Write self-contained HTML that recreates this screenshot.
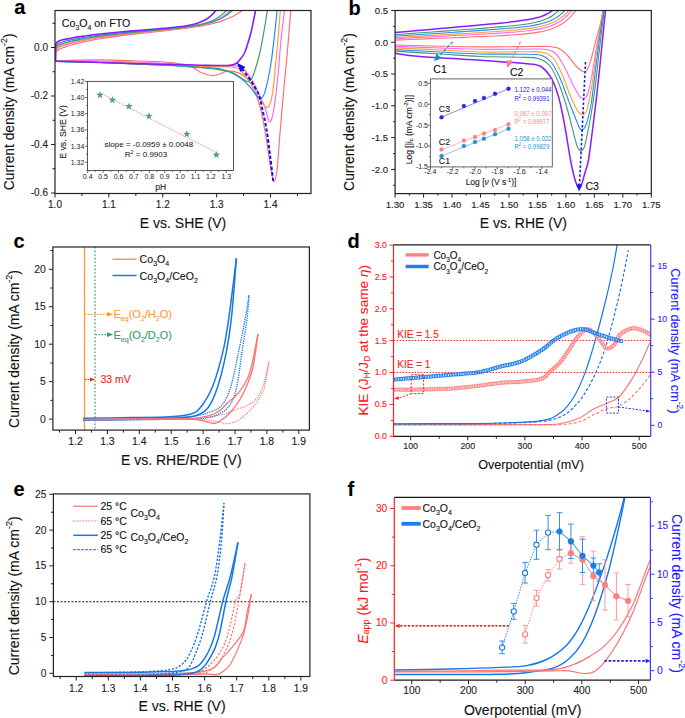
<!DOCTYPE html>
<html><head><meta charset="utf-8"><style>
html,body{margin:0;padding:0;background:#fff;}
svg{display:block;font-family:"Liberation Sans", sans-serif;}
</style></head><body>
<svg width="685" height="718" viewBox="0 0 685 718">
<rect width="685" height="718" fill="#fff"/>
<text x="14.3" y="14.4" font-size="20" text-anchor="start" fill="#000" font-weight="bold"  stroke="#000" stroke-width="0.12">a</text>
<text x="348.5" y="14.5" font-size="20" text-anchor="start" fill="#000" font-weight="bold"  stroke="#000" stroke-width="0.12">b</text>
<text x="13.6" y="248.4" font-size="20" text-anchor="start" fill="#000" font-weight="bold"  stroke="#000" stroke-width="0.12">c</text>
<text x="347.5" y="248.1" font-size="20" text-anchor="start" fill="#000" font-weight="bold"  stroke="#000" stroke-width="0.12">d</text>
<text x="13.6" y="496.3" font-size="20" text-anchor="start" fill="#000" font-weight="bold"  stroke="#000" stroke-width="0.12">e</text>
<text x="347.5" y="495.7" font-size="20" text-anchor="start" fill="#000" font-weight="bold"  stroke="#000" stroke-width="0.12">f</text>
<line x1="55" y1="193.5" x2="55" y2="197.5" stroke="#222" stroke-width="1.0"/>
<line x1="108.88" y1="193.5" x2="108.88" y2="197.5" stroke="#222" stroke-width="1.0"/>
<line x1="162.75" y1="193.5" x2="162.75" y2="197.5" stroke="#222" stroke-width="1.0"/>
<line x1="216.63" y1="193.5" x2="216.63" y2="197.5" stroke="#222" stroke-width="1.0"/>
<line x1="270.5" y1="193.5" x2="270.5" y2="197.5" stroke="#222" stroke-width="1.0"/>
<line x1="81.94" y1="193.5" x2="81.94" y2="196" stroke="#222" stroke-width="1.0"/>
<line x1="135.81" y1="193.5" x2="135.81" y2="196" stroke="#222" stroke-width="1.0"/>
<line x1="189.69" y1="193.5" x2="189.69" y2="196" stroke="#222" stroke-width="1.0"/>
<line x1="243.56" y1="193.5" x2="243.56" y2="196" stroke="#222" stroke-width="1.0"/>
<line x1="297.44" y1="193.5" x2="297.44" y2="196" stroke="#222" stroke-width="1.0"/>
<text x="55" y="208.1" font-size="10" text-anchor="middle" fill="#222" font-weight="normal"  stroke="#222" stroke-width="0.12">1.0</text>
<text x="108.88" y="208.1" font-size="10" text-anchor="middle" fill="#222" font-weight="normal"  stroke="#222" stroke-width="0.12">1.1</text>
<text x="162.75" y="208.1" font-size="10" text-anchor="middle" fill="#222" font-weight="normal"  stroke="#222" stroke-width="0.12">1.2</text>
<text x="216.63" y="208.1" font-size="10" text-anchor="middle" fill="#222" font-weight="normal"  stroke="#222" stroke-width="0.12">1.3</text>
<text x="270.5" y="208.1" font-size="10" text-anchor="middle" fill="#222" font-weight="normal"  stroke="#222" stroke-width="0.12">1.4</text>
<line x1="55" y1="47.5" x2="51" y2="47.5" stroke="#222" stroke-width="1.0"/>
<line x1="55" y1="96" x2="51" y2="96" stroke="#222" stroke-width="1.0"/>
<line x1="55" y1="144.5" x2="51" y2="144.5" stroke="#222" stroke-width="1.0"/>
<line x1="55" y1="193" x2="51" y2="193" stroke="#222" stroke-width="1.0"/>
<line x1="55" y1="23.25" x2="52.5" y2="23.25" stroke="#222" stroke-width="1.0"/>
<line x1="55" y1="71.75" x2="52.5" y2="71.75" stroke="#222" stroke-width="1.0"/>
<line x1="55" y1="120.25" x2="52.5" y2="120.25" stroke="#222" stroke-width="1.0"/>
<line x1="55" y1="168.75" x2="52.5" y2="168.75" stroke="#222" stroke-width="1.0"/>
<text x="48" y="50.8" font-size="10" text-anchor="end" fill="#222" font-weight="normal"  stroke="#222" stroke-width="0.12">0.0</text>
<text x="48" y="99.3" font-size="10" text-anchor="end" fill="#222" font-weight="normal"  stroke="#222" stroke-width="0.12">-0.2</text>
<text x="48" y="147.8" font-size="10" text-anchor="end" fill="#222" font-weight="normal"  stroke="#222" stroke-width="0.12">-0.4</text>
<text x="48" y="196.3" font-size="10" text-anchor="end" fill="#222" font-weight="normal"  stroke="#222" stroke-width="0.12">-0.6</text>
<text x="183" y="228.4" font-size="14" text-anchor="middle" fill="#111" font-weight="normal"  stroke="#111" stroke-width="0.12">E vs. SHE (V)</text>
<text x="0" y="0" font-size="13.8" text-anchor="middle" fill="#111" transform="translate(9.3,111.8) rotate(-90)" dominant-baseline="central"  stroke="#111" stroke-width="0.12">Current density (mA cm<tspan dy="-5" font-size="9">-2</tspan><tspan dy="5">)</tspan></text>
<text x="61.8" y="27.3" font-size="11.2" fill="#111" textLength="68.5" lengthAdjust="spacingAndGlyphs" stroke="#111" stroke-width="0.12">Co<tspan dy="3" font-size="7.2">3</tspan><tspan dy="-3">O</tspan><tspan dy="3" font-size="7.2">4</tspan><tspan dy="-3"> on FTO</tspan></text>
<line x1="395.1" y1="193.6" x2="395.1" y2="197.6" stroke="#222" stroke-width="1.0"/>
<line x1="423.57" y1="193.6" x2="423.57" y2="197.6" stroke="#222" stroke-width="1.0"/>
<line x1="452.03" y1="193.6" x2="452.03" y2="197.6" stroke="#222" stroke-width="1.0"/>
<line x1="480.5" y1="193.6" x2="480.5" y2="197.6" stroke="#222" stroke-width="1.0"/>
<line x1="508.97" y1="193.6" x2="508.97" y2="197.6" stroke="#222" stroke-width="1.0"/>
<line x1="537.43" y1="193.6" x2="537.43" y2="197.6" stroke="#222" stroke-width="1.0"/>
<line x1="565.9" y1="193.6" x2="565.9" y2="197.6" stroke="#222" stroke-width="1.0"/>
<line x1="594.37" y1="193.6" x2="594.37" y2="197.6" stroke="#222" stroke-width="1.0"/>
<line x1="622.83" y1="193.6" x2="622.83" y2="197.6" stroke="#222" stroke-width="1.0"/>
<line x1="651.3" y1="193.6" x2="651.3" y2="197.6" stroke="#222" stroke-width="1.0"/>
<line x1="409.33" y1="193.6" x2="409.33" y2="195.6" stroke="#222" stroke-width="1.0"/>
<line x1="437.8" y1="193.6" x2="437.8" y2="195.6" stroke="#222" stroke-width="1.0"/>
<line x1="466.27" y1="193.6" x2="466.27" y2="195.6" stroke="#222" stroke-width="1.0"/>
<line x1="494.73" y1="193.6" x2="494.73" y2="195.6" stroke="#222" stroke-width="1.0"/>
<line x1="523.2" y1="193.6" x2="523.2" y2="195.6" stroke="#222" stroke-width="1.0"/>
<line x1="551.67" y1="193.6" x2="551.67" y2="195.6" stroke="#222" stroke-width="1.0"/>
<line x1="580.13" y1="193.6" x2="580.13" y2="195.6" stroke="#222" stroke-width="1.0"/>
<line x1="608.6" y1="193.6" x2="608.6" y2="195.6" stroke="#222" stroke-width="1.0"/>
<line x1="637.07" y1="193.6" x2="637.07" y2="195.6" stroke="#222" stroke-width="1.0"/>
<text x="395.1" y="207.9" font-size="9.6" text-anchor="middle" fill="#222" font-weight="normal"  stroke="#222" stroke-width="0.12">1.30</text>
<text x="423.57" y="207.9" font-size="9.6" text-anchor="middle" fill="#222" font-weight="normal"  stroke="#222" stroke-width="0.12">1.35</text>
<text x="452.03" y="207.9" font-size="9.6" text-anchor="middle" fill="#222" font-weight="normal"  stroke="#222" stroke-width="0.12">1.40</text>
<text x="480.5" y="207.9" font-size="9.6" text-anchor="middle" fill="#222" font-weight="normal"  stroke="#222" stroke-width="0.12">1.45</text>
<text x="508.97" y="207.9" font-size="9.6" text-anchor="middle" fill="#222" font-weight="normal"  stroke="#222" stroke-width="0.12">1.50</text>
<text x="537.43" y="207.9" font-size="9.6" text-anchor="middle" fill="#222" font-weight="normal"  stroke="#222" stroke-width="0.12">1.55</text>
<text x="565.9" y="207.9" font-size="9.6" text-anchor="middle" fill="#222" font-weight="normal"  stroke="#222" stroke-width="0.12">1.60</text>
<text x="594.37" y="207.9" font-size="9.6" text-anchor="middle" fill="#222" font-weight="normal"  stroke="#222" stroke-width="0.12">1.65</text>
<text x="622.83" y="207.9" font-size="9.6" text-anchor="middle" fill="#222" font-weight="normal"  stroke="#222" stroke-width="0.12">1.70</text>
<text x="651.3" y="207.9" font-size="9.6" text-anchor="middle" fill="#222" font-weight="normal"  stroke="#222" stroke-width="0.12">1.75</text>
<line x1="395.1" y1="10.5" x2="391.1" y2="10.5" stroke="#222" stroke-width="1.0"/>
<line x1="395.1" y1="42.28" x2="391.1" y2="42.28" stroke="#222" stroke-width="1.0"/>
<line x1="395.1" y1="74.06" x2="391.1" y2="74.06" stroke="#222" stroke-width="1.0"/>
<line x1="395.1" y1="105.84" x2="391.1" y2="105.84" stroke="#222" stroke-width="1.0"/>
<line x1="395.1" y1="137.62" x2="391.1" y2="137.62" stroke="#222" stroke-width="1.0"/>
<line x1="395.1" y1="169.4" x2="391.1" y2="169.4" stroke="#222" stroke-width="1.0"/>
<line x1="395.1" y1="26.39" x2="393.1" y2="26.39" stroke="#222" stroke-width="1.0"/>
<line x1="395.1" y1="58.17" x2="393.1" y2="58.17" stroke="#222" stroke-width="1.0"/>
<line x1="395.1" y1="89.95" x2="393.1" y2="89.95" stroke="#222" stroke-width="1.0"/>
<line x1="395.1" y1="121.73" x2="393.1" y2="121.73" stroke="#222" stroke-width="1.0"/>
<line x1="395.1" y1="153.51" x2="393.1" y2="153.51" stroke="#222" stroke-width="1.0"/>
<line x1="395.1" y1="185.29" x2="393.1" y2="185.29" stroke="#222" stroke-width="1.0"/>
<text x="388.1" y="13.8" font-size="9.6" text-anchor="end" fill="#222" font-weight="normal"  stroke="#222" stroke-width="0.12">0.5</text>
<text x="388.1" y="45.58" font-size="9.6" text-anchor="end" fill="#222" font-weight="normal"  stroke="#222" stroke-width="0.12">0.0</text>
<text x="388.1" y="77.36" font-size="9.6" text-anchor="end" fill="#222" font-weight="normal"  stroke="#222" stroke-width="0.12">-0.5</text>
<text x="388.1" y="109.14" font-size="9.6" text-anchor="end" fill="#222" font-weight="normal"  stroke="#222" stroke-width="0.12">-1.0</text>
<text x="388.1" y="140.92" font-size="9.6" text-anchor="end" fill="#222" font-weight="normal"  stroke="#222" stroke-width="0.12">-1.5</text>
<text x="388.1" y="172.7" font-size="9.6" text-anchor="end" fill="#222" font-weight="normal"  stroke="#222" stroke-width="0.12">-2.0</text>
<text x="523.4" y="227.9" font-size="14" text-anchor="middle" fill="#111" font-weight="normal"  stroke="#111" stroke-width="0.12">E vs. RHE (V)</text>
<text x="0" y="0" font-size="13.9" text-anchor="middle" fill="#111" transform="translate(349.3,112) rotate(-90)" dominant-baseline="central"  stroke="#111" stroke-width="0.12">Current density (mA cm<tspan dy="-5" font-size="9">-2</tspan><tspan dy="5">)</tspan></text>
<line x1="75.5" y1="430.1" x2="75.5" y2="434.1" stroke="#222" stroke-width="1.0"/>
<line x1="107.4" y1="430.1" x2="107.4" y2="434.1" stroke="#222" stroke-width="1.0"/>
<line x1="139.3" y1="430.1" x2="139.3" y2="434.1" stroke="#222" stroke-width="1.0"/>
<line x1="171.2" y1="430.1" x2="171.2" y2="434.1" stroke="#222" stroke-width="1.0"/>
<line x1="203.1" y1="430.1" x2="203.1" y2="434.1" stroke="#222" stroke-width="1.0"/>
<line x1="235" y1="430.1" x2="235" y2="434.1" stroke="#222" stroke-width="1.0"/>
<line x1="266.9" y1="430.1" x2="266.9" y2="434.1" stroke="#222" stroke-width="1.0"/>
<line x1="298.8" y1="430.1" x2="298.8" y2="434.1" stroke="#222" stroke-width="1.0"/>
<line x1="59.55" y1="430.1" x2="59.55" y2="432.6" stroke="#222" stroke-width="1.0"/>
<line x1="91.45" y1="430.1" x2="91.45" y2="432.6" stroke="#222" stroke-width="1.0"/>
<line x1="123.35" y1="430.1" x2="123.35" y2="432.6" stroke="#222" stroke-width="1.0"/>
<line x1="155.25" y1="430.1" x2="155.25" y2="432.6" stroke="#222" stroke-width="1.0"/>
<line x1="187.15" y1="430.1" x2="187.15" y2="432.6" stroke="#222" stroke-width="1.0"/>
<line x1="219.05" y1="430.1" x2="219.05" y2="432.6" stroke="#222" stroke-width="1.0"/>
<line x1="250.95" y1="430.1" x2="250.95" y2="432.6" stroke="#222" stroke-width="1.0"/>
<line x1="282.85" y1="430.1" x2="282.85" y2="432.6" stroke="#222" stroke-width="1.0"/>
<text x="75.5" y="444.6" font-size="10.4" text-anchor="middle" fill="#222" font-weight="normal"  stroke="#222" stroke-width="0.12">1.2</text>
<text x="107.4" y="444.6" font-size="10.4" text-anchor="middle" fill="#222" font-weight="normal"  stroke="#222" stroke-width="0.12">1.3</text>
<text x="139.3" y="444.6" font-size="10.4" text-anchor="middle" fill="#222" font-weight="normal"  stroke="#222" stroke-width="0.12">1.4</text>
<text x="171.2" y="444.6" font-size="10.4" text-anchor="middle" fill="#222" font-weight="normal"  stroke="#222" stroke-width="0.12">1.5</text>
<text x="203.1" y="444.6" font-size="10.4" text-anchor="middle" fill="#222" font-weight="normal"  stroke="#222" stroke-width="0.12">1.6</text>
<text x="235" y="444.6" font-size="10.4" text-anchor="middle" fill="#222" font-weight="normal"  stroke="#222" stroke-width="0.12">1.7</text>
<text x="266.9" y="444.6" font-size="10.4" text-anchor="middle" fill="#222" font-weight="normal"  stroke="#222" stroke-width="0.12">1.8</text>
<text x="298.8" y="444.6" font-size="10.4" text-anchor="middle" fill="#222" font-weight="normal"  stroke="#222" stroke-width="0.12">1.9</text>
<line x1="52.9" y1="419.1" x2="48.9" y2="419.1" stroke="#222" stroke-width="1.0"/>
<line x1="52.9" y1="381.65" x2="48.9" y2="381.65" stroke="#222" stroke-width="1.0"/>
<line x1="52.9" y1="344.2" x2="48.9" y2="344.2" stroke="#222" stroke-width="1.0"/>
<line x1="52.9" y1="306.75" x2="48.9" y2="306.75" stroke="#222" stroke-width="1.0"/>
<line x1="52.9" y1="269.3" x2="48.9" y2="269.3" stroke="#222" stroke-width="1.0"/>
<line x1="52.9" y1="400.38" x2="50.4" y2="400.38" stroke="#222" stroke-width="1.0"/>
<line x1="52.9" y1="362.93" x2="50.4" y2="362.93" stroke="#222" stroke-width="1.0"/>
<line x1="52.9" y1="325.48" x2="50.4" y2="325.48" stroke="#222" stroke-width="1.0"/>
<line x1="52.9" y1="288.02" x2="50.4" y2="288.02" stroke="#222" stroke-width="1.0"/>
<line x1="52.9" y1="250.58" x2="50.4" y2="250.58" stroke="#222" stroke-width="1.0"/>
<text x="45.7" y="422.6" font-size="10.4" text-anchor="end" fill="#222" font-weight="normal"  stroke="#222" stroke-width="0.12">0</text>
<text x="45.7" y="385.15" font-size="10.4" text-anchor="end" fill="#222" font-weight="normal"  stroke="#222" stroke-width="0.12">5</text>
<text x="45.7" y="347.7" font-size="10.4" text-anchor="end" fill="#222" font-weight="normal"  stroke="#222" stroke-width="0.12">10</text>
<text x="45.7" y="310.25" font-size="10.4" text-anchor="end" fill="#222" font-weight="normal"  stroke="#222" stroke-width="0.12">15</text>
<text x="45.7" y="272.8" font-size="10.4" text-anchor="end" fill="#222" font-weight="normal"  stroke="#222" stroke-width="0.12">20</text>
<text x="181.3" y="465" font-size="14" text-anchor="middle" fill="#111" font-weight="normal"  stroke="#111" stroke-width="0.12">E vs. RHE/RDE (V)</text>
<text x="0" y="0" font-size="13.9" text-anchor="middle" fill="#111" transform="translate(13.5,349) rotate(-90)" dominant-baseline="central"  stroke="#111" stroke-width="0.12">Current density (mA cm<tspan dy="-5" font-size="9">-2</tspan><tspan dy="5">)</tspan></text>
<line x1="410.6" y1="436.3" x2="410.6" y2="440.3" stroke="#222" stroke-width="1.0"/>
<line x1="467.75" y1="436.3" x2="467.75" y2="440.3" stroke="#222" stroke-width="1.0"/>
<line x1="524.9" y1="436.3" x2="524.9" y2="440.3" stroke="#222" stroke-width="1.0"/>
<line x1="582.05" y1="436.3" x2="582.05" y2="440.3" stroke="#222" stroke-width="1.0"/>
<line x1="639.2" y1="436.3" x2="639.2" y2="440.3" stroke="#222" stroke-width="1.0"/>
<line x1="439.18" y1="436.3" x2="439.18" y2="438.8" stroke="#222" stroke-width="1.0"/>
<line x1="496.33" y1="436.3" x2="496.33" y2="438.8" stroke="#222" stroke-width="1.0"/>
<line x1="553.48" y1="436.3" x2="553.48" y2="438.8" stroke="#222" stroke-width="1.0"/>
<line x1="610.62" y1="436.3" x2="610.62" y2="438.8" stroke="#222" stroke-width="1.0"/>
<text x="410.6" y="449.4" font-size="8.8" text-anchor="middle" fill="#222" font-weight="normal"  stroke="#222" stroke-width="0.12">100</text>
<text x="467.75" y="449.4" font-size="8.8" text-anchor="middle" fill="#222" font-weight="normal"  stroke="#222" stroke-width="0.12">200</text>
<text x="524.9" y="449.4" font-size="8.8" text-anchor="middle" fill="#222" font-weight="normal"  stroke="#222" stroke-width="0.12">300</text>
<text x="582.05" y="449.4" font-size="8.8" text-anchor="middle" fill="#222" font-weight="normal"  stroke="#222" stroke-width="0.12">400</text>
<text x="639.2" y="449.4" font-size="8.8" text-anchor="middle" fill="#222" font-weight="normal"  stroke="#222" stroke-width="0.12">500</text>
<line x1="393.5" y1="436.3" x2="389.5" y2="436.3" stroke="#ff2020" stroke-width="1.0"/>
<line x1="393.5" y1="404.43" x2="389.5" y2="404.43" stroke="#ff2020" stroke-width="1.0"/>
<line x1="393.5" y1="372.57" x2="389.5" y2="372.57" stroke="#ff2020" stroke-width="1.0"/>
<line x1="393.5" y1="340.7" x2="389.5" y2="340.7" stroke="#ff2020" stroke-width="1.0"/>
<line x1="393.5" y1="308.83" x2="389.5" y2="308.83" stroke="#ff2020" stroke-width="1.0"/>
<line x1="393.5" y1="276.97" x2="389.5" y2="276.97" stroke="#ff2020" stroke-width="1.0"/>
<line x1="393.5" y1="245.1" x2="389.5" y2="245.1" stroke="#ff2020" stroke-width="1.0"/>
<line x1="393.5" y1="420.37" x2="391" y2="420.37" stroke="#ff2020" stroke-width="1.0"/>
<line x1="393.5" y1="388.5" x2="391" y2="388.5" stroke="#ff2020" stroke-width="1.0"/>
<line x1="393.5" y1="356.63" x2="391" y2="356.63" stroke="#ff2020" stroke-width="1.0"/>
<line x1="393.5" y1="324.77" x2="391" y2="324.77" stroke="#ff2020" stroke-width="1.0"/>
<line x1="393.5" y1="292.9" x2="391" y2="292.9" stroke="#ff2020" stroke-width="1.0"/>
<line x1="393.5" y1="261.03" x2="391" y2="261.03" stroke="#ff2020" stroke-width="1.0"/>
<text x="386.9" y="439.2" font-size="8.8" text-anchor="end" fill="#ff2020" font-weight="normal"  stroke="#ff2020" stroke-width="0.12">0.0</text>
<text x="386.9" y="407.33" font-size="8.8" text-anchor="end" fill="#ff2020" font-weight="normal"  stroke="#ff2020" stroke-width="0.12">0.5</text>
<text x="386.9" y="375.47" font-size="8.8" text-anchor="end" fill="#ff2020" font-weight="normal"  stroke="#ff2020" stroke-width="0.12">1.0</text>
<text x="386.9" y="343.6" font-size="8.8" text-anchor="end" fill="#ff2020" font-weight="normal"  stroke="#ff2020" stroke-width="0.12">1.5</text>
<text x="386.9" y="311.73" font-size="8.8" text-anchor="end" fill="#ff2020" font-weight="normal"  stroke="#ff2020" stroke-width="0.12">2.0</text>
<text x="386.9" y="279.87" font-size="8.8" text-anchor="end" fill="#ff2020" font-weight="normal"  stroke="#ff2020" stroke-width="0.12">2.5</text>
<text x="386.9" y="248" font-size="8.8" text-anchor="end" fill="#ff2020" font-weight="normal"  stroke="#ff2020" stroke-width="0.12">3.0</text>
<line x1="650.7" y1="425.3" x2="654.7" y2="425.3" stroke="#3a3aff" stroke-width="1.0"/>
<line x1="650.7" y1="372.23" x2="654.7" y2="372.23" stroke="#3a3aff" stroke-width="1.0"/>
<line x1="650.7" y1="319.17" x2="654.7" y2="319.17" stroke="#3a3aff" stroke-width="1.0"/>
<line x1="650.7" y1="266.1" x2="654.7" y2="266.1" stroke="#3a3aff" stroke-width="1.0"/>
<line x1="650.7" y1="398.77" x2="653.2" y2="398.77" stroke="#3a3aff" stroke-width="1.0"/>
<line x1="650.7" y1="345.7" x2="653.2" y2="345.7" stroke="#3a3aff" stroke-width="1.0"/>
<line x1="650.7" y1="292.63" x2="653.2" y2="292.63" stroke="#3a3aff" stroke-width="1.0"/>
<text x="657.5" y="428.2" font-size="8.6" text-anchor="start" fill="#2a2aff" font-weight="normal"  stroke="#2a2aff" stroke-width="0.12">0</text>
<text x="657.5" y="375.13" font-size="8.6" text-anchor="start" fill="#2a2aff" font-weight="normal"  stroke="#2a2aff" stroke-width="0.12">5</text>
<text x="657.5" y="322.07" font-size="8.6" text-anchor="start" fill="#2a2aff" font-weight="normal"  stroke="#2a2aff" stroke-width="0.12">10</text>
<text x="657.5" y="269" font-size="8.6" text-anchor="start" fill="#2a2aff" font-weight="normal"  stroke="#2a2aff" stroke-width="0.12">15</text>
<text x="531" y="469.2" font-size="12.6" text-anchor="middle" fill="#111" font-weight="normal"  stroke="#111" stroke-width="0.12">Overpotential (mV)</text>
<line x1="76.2" y1="676.5" x2="76.2" y2="680.5" stroke="#222" stroke-width="1.0"/>
<line x1="108.3" y1="676.5" x2="108.3" y2="680.5" stroke="#222" stroke-width="1.0"/>
<line x1="140.4" y1="676.5" x2="140.4" y2="680.5" stroke="#222" stroke-width="1.0"/>
<line x1="172.5" y1="676.5" x2="172.5" y2="680.5" stroke="#222" stroke-width="1.0"/>
<line x1="204.6" y1="676.5" x2="204.6" y2="680.5" stroke="#222" stroke-width="1.0"/>
<line x1="236.7" y1="676.5" x2="236.7" y2="680.5" stroke="#222" stroke-width="1.0"/>
<line x1="268.8" y1="676.5" x2="268.8" y2="680.5" stroke="#222" stroke-width="1.0"/>
<line x1="300.9" y1="676.5" x2="300.9" y2="680.5" stroke="#222" stroke-width="1.0"/>
<line x1="60.15" y1="676.5" x2="60.15" y2="679" stroke="#222" stroke-width="1.0"/>
<line x1="92.25" y1="676.5" x2="92.25" y2="679" stroke="#222" stroke-width="1.0"/>
<line x1="124.35" y1="676.5" x2="124.35" y2="679" stroke="#222" stroke-width="1.0"/>
<line x1="156.45" y1="676.5" x2="156.45" y2="679" stroke="#222" stroke-width="1.0"/>
<line x1="188.55" y1="676.5" x2="188.55" y2="679" stroke="#222" stroke-width="1.0"/>
<line x1="220.65" y1="676.5" x2="220.65" y2="679" stroke="#222" stroke-width="1.0"/>
<line x1="252.75" y1="676.5" x2="252.75" y2="679" stroke="#222" stroke-width="1.0"/>
<line x1="284.85" y1="676.5" x2="284.85" y2="679" stroke="#222" stroke-width="1.0"/>
<text x="76.2" y="691.7" font-size="10.2" text-anchor="middle" fill="#222" font-weight="normal"  stroke="#222" stroke-width="0.12">1.2</text>
<text x="108.3" y="691.7" font-size="10.2" text-anchor="middle" fill="#222" font-weight="normal"  stroke="#222" stroke-width="0.12">1.3</text>
<text x="140.4" y="691.7" font-size="10.2" text-anchor="middle" fill="#222" font-weight="normal"  stroke="#222" stroke-width="0.12">1.4</text>
<text x="172.5" y="691.7" font-size="10.2" text-anchor="middle" fill="#222" font-weight="normal"  stroke="#222" stroke-width="0.12">1.5</text>
<text x="204.6" y="691.7" font-size="10.2" text-anchor="middle" fill="#222" font-weight="normal"  stroke="#222" stroke-width="0.12">1.6</text>
<text x="236.7" y="691.7" font-size="10.2" text-anchor="middle" fill="#222" font-weight="normal"  stroke="#222" stroke-width="0.12">1.7</text>
<text x="268.8" y="691.7" font-size="10.2" text-anchor="middle" fill="#222" font-weight="normal"  stroke="#222" stroke-width="0.12">1.8</text>
<text x="300.9" y="691.7" font-size="10.2" text-anchor="middle" fill="#222" font-weight="normal"  stroke="#222" stroke-width="0.12">1.9</text>
<line x1="53.4" y1="673.3" x2="49.4" y2="673.3" stroke="#222" stroke-width="1.0"/>
<line x1="53.4" y1="637.5" x2="49.4" y2="637.5" stroke="#222" stroke-width="1.0"/>
<line x1="53.4" y1="601.7" x2="49.4" y2="601.7" stroke="#222" stroke-width="1.0"/>
<line x1="53.4" y1="565.9" x2="49.4" y2="565.9" stroke="#222" stroke-width="1.0"/>
<line x1="53.4" y1="530.1" x2="49.4" y2="530.1" stroke="#222" stroke-width="1.0"/>
<line x1="53.4" y1="494.3" x2="49.4" y2="494.3" stroke="#222" stroke-width="1.0"/>
<line x1="53.4" y1="655.4" x2="50.9" y2="655.4" stroke="#222" stroke-width="1.0"/>
<line x1="53.4" y1="619.6" x2="50.9" y2="619.6" stroke="#222" stroke-width="1.0"/>
<line x1="53.4" y1="583.8" x2="50.9" y2="583.8" stroke="#222" stroke-width="1.0"/>
<line x1="53.4" y1="548" x2="50.9" y2="548" stroke="#222" stroke-width="1.0"/>
<line x1="53.4" y1="512.2" x2="50.9" y2="512.2" stroke="#222" stroke-width="1.0"/>
<text x="46.4" y="676.7" font-size="10.2" text-anchor="end" fill="#222" font-weight="normal"  stroke="#222" stroke-width="0.12">0</text>
<text x="46.4" y="640.9" font-size="10.2" text-anchor="end" fill="#222" font-weight="normal"  stroke="#222" stroke-width="0.12">5</text>
<text x="46.4" y="605.1" font-size="10.2" text-anchor="end" fill="#222" font-weight="normal"  stroke="#222" stroke-width="0.12">10</text>
<text x="46.4" y="569.3" font-size="10.2" text-anchor="end" fill="#222" font-weight="normal"  stroke="#222" stroke-width="0.12">15</text>
<text x="46.4" y="533.5" font-size="10.2" text-anchor="end" fill="#222" font-weight="normal"  stroke="#222" stroke-width="0.12">20</text>
<text x="46.4" y="497.7" font-size="10.2" text-anchor="end" fill="#222" font-weight="normal"  stroke="#222" stroke-width="0.12">25</text>
<text x="182" y="711.3" font-size="14" text-anchor="middle" fill="#111" font-weight="normal"  stroke="#111" stroke-width="0.12">E vs. RHE (V)</text>
<text x="0" y="0" font-size="14" text-anchor="middle" fill="#111" transform="translate(13.5,595.9) rotate(-90)" dominant-baseline="central"  stroke="#111" stroke-width="0.12">Current density (mA cm<tspan dy="-5" font-size="9">-2</tspan><tspan dy="5">)</tspan></text>
<line x1="411.8" y1="680.2" x2="411.8" y2="684.2" stroke="#222" stroke-width="1.0"/>
<line x1="468.5" y1="680.2" x2="468.5" y2="684.2" stroke="#222" stroke-width="1.0"/>
<line x1="525.2" y1="680.2" x2="525.2" y2="684.2" stroke="#222" stroke-width="1.0"/>
<line x1="581.9" y1="680.2" x2="581.9" y2="684.2" stroke="#222" stroke-width="1.0"/>
<line x1="638.6" y1="680.2" x2="638.6" y2="684.2" stroke="#222" stroke-width="1.0"/>
<line x1="440.15" y1="680.2" x2="440.15" y2="682.7" stroke="#222" stroke-width="1.0"/>
<line x1="496.85" y1="680.2" x2="496.85" y2="682.7" stroke="#222" stroke-width="1.0"/>
<line x1="553.55" y1="680.2" x2="553.55" y2="682.7" stroke="#222" stroke-width="1.0"/>
<line x1="610.25" y1="680.2" x2="610.25" y2="682.7" stroke="#222" stroke-width="1.0"/>
<text x="411.8" y="694.3" font-size="10.2" text-anchor="middle" fill="#222" font-weight="normal"  stroke="#222" stroke-width="0.12">100</text>
<text x="468.5" y="694.3" font-size="10.2" text-anchor="middle" fill="#222" font-weight="normal"  stroke="#222" stroke-width="0.12">200</text>
<text x="525.2" y="694.3" font-size="10.2" text-anchor="middle" fill="#222" font-weight="normal"  stroke="#222" stroke-width="0.12">300</text>
<text x="581.9" y="694.3" font-size="10.2" text-anchor="middle" fill="#222" font-weight="normal"  stroke="#222" stroke-width="0.12">400</text>
<text x="638.6" y="694.3" font-size="10.2" text-anchor="middle" fill="#222" font-weight="normal"  stroke="#222" stroke-width="0.12">500</text>
<line x1="394.3" y1="680.2" x2="390.3" y2="680.2" stroke="#ff2020" stroke-width="1.0"/>
<line x1="394.3" y1="622.97" x2="390.3" y2="622.97" stroke="#ff2020" stroke-width="1.0"/>
<line x1="394.3" y1="565.73" x2="390.3" y2="565.73" stroke="#ff2020" stroke-width="1.0"/>
<line x1="394.3" y1="508.5" x2="390.3" y2="508.5" stroke="#ff2020" stroke-width="1.0"/>
<line x1="394.3" y1="651.58" x2="391.8" y2="651.58" stroke="#ff2020" stroke-width="1.0"/>
<line x1="394.3" y1="594.35" x2="391.8" y2="594.35" stroke="#ff2020" stroke-width="1.0"/>
<line x1="394.3" y1="537.12" x2="391.8" y2="537.12" stroke="#ff2020" stroke-width="1.0"/>
<text x="387.3" y="683.6" font-size="10.2" text-anchor="end" fill="#ff2020" font-weight="normal"  stroke="#ff2020" stroke-width="0.12">0</text>
<text x="387.3" y="626.37" font-size="10.2" text-anchor="end" fill="#ff2020" font-weight="normal"  stroke="#ff2020" stroke-width="0.12">10</text>
<text x="387.3" y="569.13" font-size="10.2" text-anchor="end" fill="#ff2020" font-weight="normal"  stroke="#ff2020" stroke-width="0.12">20</text>
<text x="387.3" y="511.9" font-size="10.2" text-anchor="end" fill="#ff2020" font-weight="normal"  stroke="#ff2020" stroke-width="0.12">30</text>
<line x1="650.4" y1="670.7" x2="654.4" y2="670.7" stroke="#3a3aff" stroke-width="1.0"/>
<line x1="650.4" y1="622.47" x2="654.4" y2="622.47" stroke="#3a3aff" stroke-width="1.0"/>
<line x1="650.4" y1="574.23" x2="654.4" y2="574.23" stroke="#3a3aff" stroke-width="1.0"/>
<line x1="650.4" y1="526" x2="654.4" y2="526" stroke="#3a3aff" stroke-width="1.0"/>
<line x1="650.4" y1="646.58" x2="652.9" y2="646.58" stroke="#3a3aff" stroke-width="1.0"/>
<line x1="650.4" y1="598.35" x2="652.9" y2="598.35" stroke="#3a3aff" stroke-width="1.0"/>
<line x1="650.4" y1="550.12" x2="652.9" y2="550.12" stroke="#3a3aff" stroke-width="1.0"/>
<line x1="650.4" y1="501.88" x2="652.9" y2="501.88" stroke="#3a3aff" stroke-width="1.0"/>
<text x="656.9" y="674.1" font-size="10.2" text-anchor="start" fill="#2a2aff" font-weight="normal"  stroke="#2a2aff" stroke-width="0.12">0</text>
<text x="656.9" y="625.87" font-size="10.2" text-anchor="start" fill="#2a2aff" font-weight="normal"  stroke="#2a2aff" stroke-width="0.12">5</text>
<text x="656.9" y="577.63" font-size="10.2" text-anchor="start" fill="#2a2aff" font-weight="normal"  stroke="#2a2aff" stroke-width="0.12">10</text>
<text x="656.9" y="529.4" font-size="10.2" text-anchor="start" fill="#2a2aff" font-weight="normal"  stroke="#2a2aff" stroke-width="0.12">15</text>
<text x="522.7" y="714.9" font-size="14" text-anchor="middle" fill="#111" font-weight="normal"  stroke="#111" stroke-width="0.12">Overpotential (mV)</text>
<defs><clipPath id="clipA"><rect x="55" y="10.5" width="256" height="183"/></clipPath></defs>
<g clip-path="url(#clipA)">
<path d="M55.5,61C55.5,60.78 55.45,61.03 55.5,59.7C55.55,58.37 55.72,54.2 55.8,53.02C55.88,51.84 55.8,52.94 56,52.63C56.2,52.32 56.58,51.62 57,51.15C57.42,50.68 57.92,50.23 58.5,49.83C59.08,49.42 59.75,49.08 60.5,48.73C61.25,48.38 61.92,48.11 63,47.71C64.08,47.31 65.5,46.81 67,46.32C68.5,45.83 69.83,45.39 72,44.79C74.17,44.19 77,43.41 80,42.7C83,41.99 86.67,41.21 90,40.55C93.33,39.9 95.83,39.44 100,38.78C104.17,38.12 110,37.26 115,36.58C120,35.9 124.17,35.39 130,34.71C135.83,34.02 143.33,33.21 150,32.47C156.67,31.73 164.17,30.94 170,30.26C175.83,29.59 180.83,28.98 185,28.43C189.17,27.89 192,27.46 195,27C198,26.53 200.5,26.1 203,25.63C205.5,25.16 207.83,24.67 210,24.18C212.17,23.69 214,23.23 216,22.68C218,22.12 220,21.53 222,20.85C224,20.16 226,19.43 228,18.56C230,17.7 232,16.77 234,15.67C236,14.57 238,13.39 240,11.97C242,10.54 244,9 246,7.15C248,5.3 251,1.89 252,0.84" fill="none" stroke="#ff7070" stroke-width="1.2" stroke-linejoin="round" />
<path d="M55.5,61C57.92,60.88 62.58,60.5 70,60.3C77.42,60.1 88.33,59.68 100,59.8C111.67,59.92 128.17,60.55 140,61C151.83,61.45 162.67,61.67 171,62.5C179.33,63.33 185.17,64.42 190,66C194.83,67.58 196.33,70.42 200,72C203.67,73.58 208.67,75.17 212,75.5C215.33,75.83 217.33,74.78 220,74C222.67,73.22 224.67,70.88 228,70.8C231.33,70.72 236.33,71.63 240,73.5C243.67,75.37 247,77.58 250,82C253,86.42 255.83,93.67 258,100C260.17,106.33 261.33,111.67 263,120C264.67,128.33 266.67,141.67 268,150C269.33,158.33 270,164.67 271,170C272,175.33 273,182 274,182C275,182 276.08,177.17 277,170C277.92,162.83 278.67,149 279.5,139C280.33,129 281.18,119.25 282,110C282.82,100.75 283.48,93.5 284.4,83.5C285.32,73.5 286.43,62.17 287.5,50C288.57,37.83 290.13,18.83 290.8,10.5C291.47,2.17 291.38,1.75 291.5,0" fill="none" stroke="#ff7070" stroke-width="1.2" stroke-linejoin="round" />
<path d="M55.5,61C55.5,60.41 55.45,59.15 55.5,57.44C55.55,55.74 55.72,51.95 55.8,50.78C55.88,49.6 55.8,50.69 56,50.39C56.2,50.09 56.58,49.4 57,48.95C57.42,48.5 57.92,48.06 58.5,47.68C59.08,47.3 59.75,46.98 60.5,46.65C61.25,46.33 61.92,46.08 63,45.71C64.08,45.34 65.5,44.89 67,44.44C68.5,44 69.83,43.6 72,43.05C74.17,42.5 77,41.79 80,41.15C83,40.5 86.67,39.79 90,39.19C93.33,38.59 95.83,38.18 100,37.57C104.17,36.96 110,36.17 115,35.55C120,34.92 124.17,34.46 130,33.83C135.83,33.19 143.33,32.44 150,31.76C156.67,31.07 164.17,30.34 170,29.7C175.83,29.06 180.83,28.46 185,27.9C189.17,27.35 192,26.89 195,26.35C198,25.81 200.5,25.29 203,24.68C205.5,24.07 207.83,23.4 210,22.67C212.17,21.95 214,21.25 216,20.31C218,19.38 220,18.36 222,17.05C224,15.74 226,14.31 228,12.44C230,10.57 232,8.53 234,5.82C236,3.12 239,-2.19 240,-3.79" fill="none" stroke="#ff66ff" stroke-width="1.2" stroke-linejoin="round" />
<path d="M55.5,61C62.92,61 80.75,60.58 100,61C119.25,61.42 154.33,62.75 171,63.5C187.67,64.25 190.17,65.12 200,65.5C209.83,65.88 223,65.47 230,65.8C237,66.13 238.33,65.13 242,67.5C245.67,69.87 249.33,75.92 252,80C254.67,84.08 255.97,87.83 258,92C260.03,96.17 262.62,100.83 264.2,105C265.78,109.17 266.6,114.17 267.5,117C268.4,119.83 268.85,121.83 269.6,122C270.35,122.17 271.1,121.33 272,118C272.9,114.67 274,109.17 275,102C276,94.83 277,85.33 278,75C279,64.67 279.93,50.75 281,40C282.07,29.25 283.73,17.17 284.4,10.5C285.07,3.83 284.9,1.75 285,0" fill="none" stroke="#ff66ff" stroke-width="1.2" stroke-linejoin="round" />
<path d="M55.5,61C55.5,60.18 55.45,58.02 55.5,56.09C55.55,54.16 55.72,50.6 55.8,49.43C55.88,48.26 55.8,49.35 56,49.05C56.2,48.75 56.58,48.07 57,47.63C57.42,47.19 57.92,46.76 58.5,46.39C59.08,46.02 59.75,45.72 60.5,45.41C61.25,45.1 61.92,44.87 63,44.52C64.08,44.17 65.5,43.74 67,43.32C68.5,42.91 69.83,42.53 72,42.01C74.17,41.49 77,40.83 80,40.22C83,39.61 86.67,38.94 90,38.38C93.33,37.82 95.83,37.42 100,36.85C104.17,36.27 110,35.52 115,34.93C120,34.34 124.17,33.89 130,33.29C135.83,32.68 143.33,31.96 150,31.3C156.67,30.64 164.17,29.93 170,29.32C175.83,28.7 180.83,28.13 185,27.6C189.17,27.07 192,26.64 195,26.13C198,25.63 200.5,25.14 203,24.57C205.5,23.99 207.83,23.37 210,22.7C212.17,22.02 214,21.38 216,20.51C218,19.65 220,18.71 222,17.5C224,16.29 226,14.98 228,13.26C230,11.54 232,9.67 234,7.18C236,4.7 239,-0.16 240,-1.63" fill="none" stroke="#ff9f2a" stroke-width="1.2" stroke-linejoin="round" />
<path d="M55.5,61C62.92,61.17 80.75,61.42 100,62C119.25,62.58 154.33,63.75 171,64.5C187.67,65.25 190,66.08 200,66.5C210,66.92 224,66.08 231,67C238,67.92 238.5,68.83 242,72C245.5,75.17 249,81.33 252,86C255,90.67 257.62,96.47 260,100C262.38,103.53 264.63,106.53 266.3,107.2C267.97,107.87 268.88,106.87 270,104C271.12,101.13 272,97.33 273,90C274,82.67 275.12,69.17 276,60C276.88,50.83 277.58,43.25 278.3,35C279.02,26.75 279.85,16.33 280.3,10.5C280.75,4.67 280.88,1.75 281,0" fill="none" stroke="#ff9f2a" stroke-width="1.2" stroke-linejoin="round" />
<path d="M55.5,61C55.5,59.65 55.45,55.38 55.5,52.93C55.55,50.48 55.72,47.45 55.8,46.29C55.88,45.12 55.8,46.2 56,45.92C56.2,45.63 56.58,44.97 57,44.55C57.42,44.13 57.92,43.74 58.5,43.4C59.08,43.06 59.75,42.79 60.5,42.52C61.25,42.24 61.92,42.05 63,41.75C64.08,41.45 65.5,41.09 67,40.73C68.5,40.38 69.83,40.06 72,39.62C74.17,39.18 77,38.61 80,38.09C83,37.58 86.67,37 90,36.52C93.33,36.03 95.83,35.69 100,35.19C104.17,34.69 110,34.03 115,33.51C120,32.98 124.17,32.58 130,32.04C135.83,31.49 143.33,30.84 150,30.23C156.67,29.63 164.17,28.98 170,28.42C175.83,27.86 180.83,27.34 185,26.86C189.17,26.38 192,25.99 195,25.53C198,25.08 200.5,24.64 203,24.13C205.5,23.63 207.83,23.08 210,22.49C212.17,21.89 214,21.33 216,20.57C218,19.81 220,18.99 222,17.94C224,16.89 226,15.75 228,14.26C230,12.77 232,11.15 234,9C236,6.85 238,4.51 240,1.39C242,-1.74 245,-7.88 246,-9.74" fill="none" stroke="#1f8cff" stroke-width="1.2" stroke-linejoin="round" />
<path d="M55.5,61.5C62.92,61.67 80.75,61.83 100,62.5C119.25,63.17 154.33,64.67 171,65.5C187.67,66.33 191.4,66.83 200,67.5C208.6,68.17 215.93,67.78 222.6,69.5C229.27,71.22 235.25,74.68 240,77.8C244.75,80.92 248.43,85.33 251.1,88.2C253.77,91.07 254.53,93.3 256,95C257.47,96.7 258.73,98.15 259.9,98.4C261.07,98.65 262.07,97.9 263,96.5C263.93,95.1 264.58,93.25 265.5,90C266.42,86.75 267.5,82 268.5,77C269.5,72 270.5,67 271.5,60C272.5,53 273.57,43.25 274.5,35C275.43,26.75 276.52,16.33 277.1,10.5C277.68,4.67 277.85,1.75 278,0" fill="none" stroke="#1f8cff" stroke-width="1.2" stroke-linejoin="round" />
<path d="M55.5,61C55.5,59.96 55.45,56.89 55.5,54.73C55.55,52.58 55.72,49.25 55.8,48.08C55.88,46.91 55.8,48 56,47.7C56.2,47.41 56.58,46.74 57,46.31C57.42,45.88 57.92,45.46 58.5,45.11C59.08,44.75 59.75,44.46 60.5,44.17C61.25,43.87 61.92,43.66 63,43.33C64.08,43 65.5,42.6 67,42.21C68.5,41.82 69.83,41.47 72,40.98C74.17,40.5 77,39.87 80,39.3C83,38.74 86.67,38.1 90,37.57C93.33,37.05 95.83,36.68 100,36.13C104.17,35.59 110,34.88 115,34.32C120,33.75 124.17,33.33 130,32.75C135.83,32.17 143.33,31.48 150,30.84C156.67,30.2 164.17,29.52 170,28.91C175.83,28.29 180.83,27.72 185,27.16C189.17,26.61 192,26.14 195,25.57C198,25.01 200.5,24.45 203,23.77C205.5,23.08 207.83,22.33 210,21.48C212.17,20.64 214,19.82 216,18.67C218,17.53 220,16.29 222,14.63C224,12.96 226,11.15 228,8.68C230,6.21 233,1.29 234,-0.19" fill="none" stroke="#3f9a6c" stroke-width="1.2" stroke-linejoin="round" />
<path d="M55.5,61.5C62.92,61.67 80.75,61.83 100,62.5C119.25,63.17 154.33,64.67 171,65.5C187.67,66.33 192.73,66.95 200,67.5C207.27,68.05 209.37,67.98 214.6,68.8C219.83,69.62 226.83,70.78 231.4,72.4C235.97,74.02 239.2,76.97 242,78.5C244.8,80.03 246.53,81.68 248.2,81.6C249.87,81.52 250.87,79.93 252,78C253.13,76.07 254,73 255,70C256,67 256.95,64 258,60C259.05,56 260.22,51.33 261.3,46C262.38,40.67 263.48,33.92 264.5,28C265.52,22.08 266.73,15.17 267.4,10.5C268.07,5.83 268.32,1.75 268.5,0" fill="none" stroke="#3f9a6c" stroke-width="1.2" stroke-linejoin="round" />
<path d="M55.5,61C55.5,59.28 55.45,53.5 55.5,50.67C55.55,47.84 55.72,45.21 55.8,44.04C55.88,42.88 55.8,43.96 56,43.68C56.2,43.4 56.58,42.76 57,42.36C57.42,41.96 57.92,41.58 58.5,41.27C59.08,40.95 59.75,40.71 60.5,40.46C61.25,40.22 61.92,40.05 63,39.79C64.08,39.53 65.5,39.21 67,38.9C68.5,38.59 69.83,38.32 72,37.93C74.17,37.55 77,37.06 80,36.6C83,36.15 86.67,35.64 90,35.21C93.33,34.78 95.83,34.48 100,34.03C104.17,33.58 110,32.99 115,32.51C120,32.04 124.17,31.67 130,31.17C135.83,30.67 143.33,30.07 150,29.5C156.67,28.92 164.17,28.34 170,27.75C175.83,27.16 180.83,26.6 185,25.97C189.17,25.33 192,24.76 195,23.95C198,23.13 200.5,22.3 203,21.08C205.5,19.87 207.83,18.48 210,16.67C212.17,14.86 214,13.1 216,10.23C218,7.36 221,1.24 222,-0.55" fill="none" stroke="#8a1cff" stroke-width="1.6" stroke-linejoin="round" />
<path d="M55.5,61C62.92,61.25 80.75,61.92 100,62.5C119.25,63.08 154.33,64.05 171,64.5C187.67,64.95 190.67,65.03 200,65.2C209.33,65.37 221.03,65.77 227,65.5C232.97,65.23 233.63,64.6 235.8,63.6C237.97,62.6 238.63,61.1 240,59.5C241.37,57.9 242.83,56.25 244,54C245.17,51.75 245.82,49.67 247,46C248.18,42.33 249.68,37.92 251.1,32C252.52,26.08 254.52,15.83 255.5,10.5C256.48,5.17 256.75,1.75 257,0" fill="none" stroke="#8a1cff" stroke-width="1.6" stroke-linejoin="round" />
</g>
<path d="M273.2,181C272.67,176.67 271.15,163.83 270,155C268.85,146.17 267.63,135.83 266.3,128C264.97,120.17 263.17,113.33 262,108C260.83,102.67 260.8,100 259.3,96C257.8,92 255.08,87.48 253,84C250.92,80.52 248.63,77.6 246.8,75.1C244.97,72.6 242.8,70.02 242,69" fill="none" stroke="#1010ee" stroke-width="2.0" stroke-dasharray="3.5,2" stroke-linejoin="round" />
<path d="M236.8,62.7 L245.5,67 L240.5,72 Z" fill="#1010ee"/>
<rect x="87.5" y="81.4" width="146" height="89.1" fill="#fff" stroke="#444" stroke-width="0.9"/>
<line x1="87.7" y1="170.5" x2="87.7" y2="173" stroke="#444" stroke-width="0.8"/>
<text x="87.7" y="178.7" font-size="7" text-anchor="middle" fill="#222" font-weight="normal" >0.4</text>
<line x1="103.1" y1="170.5" x2="103.1" y2="173" stroke="#444" stroke-width="0.8"/>
<text x="103.1" y="178.7" font-size="7" text-anchor="middle" fill="#222" font-weight="normal" >0.5</text>
<line x1="118.5" y1="170.5" x2="118.5" y2="173" stroke="#444" stroke-width="0.8"/>
<text x="118.5" y="178.7" font-size="7" text-anchor="middle" fill="#222" font-weight="normal" >0.6</text>
<line x1="133.9" y1="170.5" x2="133.9" y2="173" stroke="#444" stroke-width="0.8"/>
<text x="133.9" y="178.7" font-size="7" text-anchor="middle" fill="#222" font-weight="normal" >0.7</text>
<line x1="149.3" y1="170.5" x2="149.3" y2="173" stroke="#444" stroke-width="0.8"/>
<text x="149.3" y="178.7" font-size="7" text-anchor="middle" fill="#222" font-weight="normal" >0.8</text>
<line x1="164.7" y1="170.5" x2="164.7" y2="173" stroke="#444" stroke-width="0.8"/>
<text x="164.7" y="178.7" font-size="7" text-anchor="middle" fill="#222" font-weight="normal" >0.9</text>
<line x1="180.1" y1="170.5" x2="180.1" y2="173" stroke="#444" stroke-width="0.8"/>
<text x="180.1" y="178.7" font-size="7" text-anchor="middle" fill="#222" font-weight="normal" >1.0</text>
<line x1="195.5" y1="170.5" x2="195.5" y2="173" stroke="#444" stroke-width="0.8"/>
<text x="195.5" y="178.7" font-size="7" text-anchor="middle" fill="#222" font-weight="normal" >1.1</text>
<line x1="210.9" y1="170.5" x2="210.9" y2="173" stroke="#444" stroke-width="0.8"/>
<text x="210.9" y="178.7" font-size="7" text-anchor="middle" fill="#222" font-weight="normal" >1.2</text>
<line x1="226.3" y1="170.5" x2="226.3" y2="173" stroke="#444" stroke-width="0.8"/>
<text x="226.3" y="178.7" font-size="7" text-anchor="middle" fill="#222" font-weight="normal" >1.3</text>
<line x1="95.4" y1="170.5" x2="95.4" y2="172" stroke="#444" stroke-width="0.7"/>
<line x1="110.8" y1="170.5" x2="110.8" y2="172" stroke="#444" stroke-width="0.7"/>
<line x1="126.2" y1="170.5" x2="126.2" y2="172" stroke="#444" stroke-width="0.7"/>
<line x1="141.6" y1="170.5" x2="141.6" y2="172" stroke="#444" stroke-width="0.7"/>
<line x1="157" y1="170.5" x2="157" y2="172" stroke="#444" stroke-width="0.7"/>
<line x1="172.4" y1="170.5" x2="172.4" y2="172" stroke="#444" stroke-width="0.7"/>
<line x1="187.8" y1="170.5" x2="187.8" y2="172" stroke="#444" stroke-width="0.7"/>
<line x1="203.2" y1="170.5" x2="203.2" y2="172" stroke="#444" stroke-width="0.7"/>
<line x1="218.6" y1="170.5" x2="218.6" y2="172" stroke="#444" stroke-width="0.7"/>
<line x1="87.5" y1="162.3" x2="85" y2="162.3" stroke="#444" stroke-width="0.8"/>
<text x="84.3" y="164.7" font-size="7" text-anchor="end" fill="#222" font-weight="normal" >1.32</text>
<line x1="87.5" y1="146.12" x2="85" y2="146.12" stroke="#444" stroke-width="0.8"/>
<text x="84.3" y="148.52" font-size="7" text-anchor="end" fill="#222" font-weight="normal" >1.34</text>
<line x1="87.5" y1="129.94" x2="85" y2="129.94" stroke="#444" stroke-width="0.8"/>
<text x="84.3" y="132.34" font-size="7" text-anchor="end" fill="#222" font-weight="normal" >1.36</text>
<line x1="87.5" y1="113.76" x2="85" y2="113.76" stroke="#444" stroke-width="0.8"/>
<text x="84.3" y="116.16" font-size="7" text-anchor="end" fill="#222" font-weight="normal" >1.38</text>
<line x1="87.5" y1="97.58" x2="85" y2="97.58" stroke="#444" stroke-width="0.8"/>
<text x="84.3" y="99.98" font-size="7" text-anchor="end" fill="#222" font-weight="normal" >1.40</text>
<line x1="87.5" y1="81.4" x2="85" y2="81.4" stroke="#444" stroke-width="0.8"/>
<text x="84.3" y="83.8" font-size="7" text-anchor="end" fill="#222" font-weight="normal" >1.42</text>
<line x1="87.5" y1="170.39" x2="86" y2="170.39" stroke="#444" stroke-width="0.7"/>
<line x1="87.5" y1="154.21" x2="86" y2="154.21" stroke="#444" stroke-width="0.7"/>
<line x1="87.5" y1="138.03" x2="86" y2="138.03" stroke="#444" stroke-width="0.7"/>
<line x1="87.5" y1="121.85" x2="86" y2="121.85" stroke="#444" stroke-width="0.7"/>
<line x1="87.5" y1="105.67" x2="86" y2="105.67" stroke="#444" stroke-width="0.7"/>
<line x1="87.5" y1="89.49" x2="86" y2="89.49" stroke="#444" stroke-width="0.7"/>
<text x="160.6" y="190.4" font-size="8.5" text-anchor="middle" fill="#222" font-weight="normal"  stroke="#222" stroke-width="0.12">pH</text>
<text x="0" y="0" font-size="8.7" text-anchor="middle" fill="#222" transform="translate(62.5,131.9) rotate(-90)" dominant-baseline="central"  stroke="#222" stroke-width="0.12">E vs. SHE (V)</text>
<line x1="99.4" y1="92.6" x2="216.4" y2="152.6" stroke="#ff7a7a" stroke-width="0.8" stroke-dasharray="1.6,0.8"/>
<path d="M99.9,91.1 L100.86,93.67 L103.61,93.79 L101.46,95.51 L102.19,98.16 L99.9,96.64 L97.61,98.16 L98.34,95.51 L96.19,93.79 L98.94,93.67 Z" fill="#52a082"/>
<path d="M112.4,96.1 L113.36,98.67 L116.11,98.79 L113.96,100.51 L114.69,103.16 L112.4,101.64 L110.11,103.16 L110.84,100.51 L108.69,98.79 L111.44,98.67 Z" fill="#52a082"/>
<path d="M129,102.4 L129.96,104.97 L132.71,105.09 L130.56,106.81 L131.29,109.46 L129,107.94 L126.71,109.46 L127.44,106.81 L125.29,105.09 L128.04,104.97 Z" fill="#52a082"/>
<path d="M149,112.1 L149.96,114.67 L152.71,114.79 L150.56,116.51 L151.29,119.16 L149,117.64 L146.71,119.16 L147.44,116.51 L145.29,114.79 L148.04,114.67 Z" fill="#52a082"/>
<path d="M186.8,130.2 L187.76,132.77 L190.51,132.89 L188.36,134.61 L189.09,137.26 L186.8,135.74 L184.51,137.26 L185.24,134.61 L183.09,132.89 L185.84,132.77 Z" fill="#52a082"/>
<path d="M216.4,151 L217.36,153.57 L220.11,153.69 L217.96,155.41 L218.69,158.06 L216.4,156.54 L214.11,158.06 L214.84,155.41 L212.69,153.69 L215.44,153.57 Z" fill="#52a082"/>
<text x="148.9" y="146.6" font-size="8" text-anchor="middle" fill="#111" font-weight="normal" >slope = -0.0959 &#177; 0.0048</text>
<text x="146" y="157.4" font-size="8" text-anchor="middle" fill="#111" font-weight="normal" >R<tspan dy="-3" font-size="5.5">2</tspan><tspan dy="3"> = 0.9903</tspan></text>
<defs><clipPath id="clipB"><rect x="395" y="10.5" width="256.3" height="182.1"/></clipPath></defs>
<g clip-path="url(#clipB)">
<path d="M395,40.1C397.5,40 405,39.7 410,39.5C415,39.3 420,39.1 425,38.9C430,38.7 435,38.5 440,38.3C445,38.09 450,37.89 455,37.69C460,37.48 465,37.28 470,37.07C475,36.86 480,36.65 485,36.42C490,36.19 495,35.97 500,35.7C505,35.43 510,35.18 515,34.79C520,34.41 525.83,33.89 530,33.41C534.17,32.92 537.83,32.24 540,31.88C542.17,31.52 542,31.49 543,31.26C544,31.04 545,30.8 546,30.54C547,30.28 548,30 549,29.7C550,29.39 551,29.06 552,28.7C553,28.34 554,27.95 555,27.53C556,27.1 557,26.64 558,26.13C559,25.62 560,25.08 561,24.48C562,23.87 563,23.22 564,22.5C565,21.78 566,21.01 567,20.15C568,19.29 569,18.36 570,17.33C571,16.3 572,15.2 573,13.96C574,12.72 575,11.4 576,9.92C577,8.44 578,6.85 579,5.07C580,3.29 581.5,0.21 582,-0.76" fill="none" stroke="#ff7070" stroke-width="1.1" stroke-linejoin="round" />
<path d="M395,45C402.5,45.2 425.83,45.88 440,46.2C454.17,46.52 466.67,46.83 480,46.9C493.33,46.97 508.67,46.67 520,46.6C531.33,46.53 541.5,46.18 548,46.5C554.5,46.82 555.67,46.92 559,48.5C562.33,50.08 565.17,53.08 568,56C570.83,58.92 573.25,63.33 576,66C578.75,68.67 582.42,71.83 584.5,72C586.58,72.17 587.15,70.1 588.5,67C589.85,63.9 591.27,58.23 592.6,53.4C593.93,48.57 595.28,42.57 596.5,38C597.72,33.43 598.82,30.58 599.9,26C600.98,21.42 602.32,14.83 603,10.5C603.68,6.17 603.83,1.75 604,0" fill="none" stroke="#ff7070" stroke-width="1.1" stroke-linejoin="round" />
<path d="M395,38.7C397.5,38.57 405,38.18 410,37.92C415,37.66 420,37.4 425,37.14C430,36.88 435,36.62 440,36.36C445,36.1 450,35.84 455,35.57C460,35.31 465,35.05 470,34.78C475,34.51 480,34.24 485,33.96C490,33.68 495,33.4 500,33.08C505,32.76 510,32.45 515,32.02C520,31.59 525.83,31.02 530,30.49C534.17,29.96 537.83,29.23 540,28.85C542.17,28.46 542,28.42 543,28.18C544,27.94 545,27.68 546,27.4C547,27.11 548,26.81 549,26.48C550,26.14 551,25.79 552,25.39C553,24.99 554,24.57 555,24.09C556,23.62 557,23.11 558,22.54C559,21.98 560,21.37 561,20.69C562,20.01 563,19.28 564,18.45C565,17.63 566,16.75 567,15.76C568,14.77 569,13.71 570,12.51C571,11.31 572,10.02 573,8.57C574,7.11 575,5.55 576,3.79C577,2.03 578.5,-1.05 579,-2.01" fill="none" stroke="#ff66ff" stroke-width="1.1" stroke-linejoin="round" />
<path d="M395,46.4C402.5,46.67 425.83,47.52 440,48C454.17,48.48 466.67,49.1 480,49.3C493.33,49.5 509.17,49.2 520,49.2C530.83,49.2 539,48.5 545,49.3C551,50.1 552.67,50.88 556,54C559.33,57.12 562.17,62.83 565,68C567.83,73.17 570.67,80.42 573,85C575.33,89.58 577.63,93.4 579,95.5C580.37,97.6 580.45,97.13 581.2,97.6C581.95,98.07 582.73,98.35 583.5,98.3C584.27,98.25 585.05,98.18 585.8,97.3C586.55,96.42 586.97,96.72 588,93C589.03,89.28 590.67,82.17 592,75C593.33,67.83 594.67,57.83 596,50C597.33,42.17 598.83,34.58 600,28C601.17,21.42 602.33,15.17 603,10.5C603.67,5.83 603.83,1.75 604,0" fill="none" stroke="#ff66ff" stroke-width="1.1" stroke-linejoin="round" />
<path d="M395,37.7C397.5,37.55 405,37.1 410,36.8C415,36.5 420,36.2 425,35.9C430,35.6 435,35.3 440,35C445,34.7 450,34.39 455,34.09C460,33.79 465,33.49 470,33.18C475,32.87 480,32.56 485,32.24C490,31.91 495,31.6 500,31.23C505,30.86 510,30.52 515,30.04C520,29.56 525.83,28.93 530,28.35C534.17,27.77 537.83,26.98 540,26.56C542.17,26.14 542,26.1 543,25.84C544,25.58 545,25.3 546,25C547,24.69 548,24.37 549,24.01C550,23.65 551,23.27 552,22.85C553,22.42 554,21.97 555,21.46C556,20.96 557,20.42 558,19.81C559,19.21 560,18.56 561,17.84C562,17.11 563,16.34 564,15.47C565,14.59 566,13.66 567,12.61C568,11.56 569,10.43 570,9.16C571,7.89 572,6.52 573,4.98C574,3.44 575.5,0.77 576,-0.08" fill="none" stroke="#ff9f2a" stroke-width="1.1" stroke-linejoin="round" />
<path d="M395,47.9C402.5,48.25 425.83,49.32 440,50C454.17,50.68 466.67,51.7 480,52C493.33,52.3 509.67,51.77 520,51.8C530.33,51.83 536.5,51.17 542,52.2C547.5,53.23 549.67,54.37 553,58C556.33,61.63 559.17,67.83 562,74C564.83,80.17 567.5,89 570,95C572.5,101 575.33,106.92 577,110C578.67,113.08 579.07,112.72 580,113.5C580.93,114.28 581.73,114.73 582.6,114.7C583.47,114.67 584.38,114.42 585.2,113.3C586.02,112.18 586.45,112.22 587.5,108C588.55,103.78 590.17,96 591.5,88C592.83,80 594.17,69.33 595.5,60C596.83,50.67 598.25,40.25 599.5,32C600.75,23.75 602.25,15.83 603,10.5C603.75,5.17 603.83,1.75 604,0" fill="none" stroke="#ff9f2a" stroke-width="1.1" stroke-linejoin="round" />
<path d="M395,36.2C397.5,36.03 405,35.53 410,35.19C415,34.86 420,34.52 425,34.19C430,33.85 435,33.52 440,33.18C445,32.85 450,32.51 455,32.17C460,31.84 465,31.5 470,31.16C475,30.82 480,30.48 485,30.12C490,29.77 495,29.42 500,29.03C505,28.63 510,28.26 515,27.75C520,27.24 525.83,26.58 530,25.96C534.17,25.35 537.83,24.5 540,24.05C542.17,23.6 542,23.55 543,23.27C544,22.98 545,22.68 546,22.34C547,22.01 548,21.65 549,21.25C550,20.85 551,20.42 552,19.94C553,19.46 554,18.95 555,18.37C556,17.79 557,17.17 558,16.47C559,15.77 560,15.01 561,14.16C562,13.31 563,12.39 564,11.35C565,10.31 566,9.19 567,7.92C568,6.64 569,5.27 570,3.71C571,2.15 572.5,-0.59 573,-1.45" fill="none" stroke="#1f8cff" stroke-width="1.1" stroke-linejoin="round" />
<path d="M395,49.6C402.5,50 425.83,51.27 440,52C454.17,52.73 466.67,53.63 480,54C493.33,54.37 510,54.03 520,54.2C530,54.37 534.83,53.7 540,55C545.17,56.3 547.67,58.17 551,62C554.33,65.83 557.42,72.5 560,78C562.58,83.5 564.6,90 566.5,95C568.4,100 569.65,103.5 571.4,108C573.15,112.5 575.68,118.73 577,122C578.32,125.27 578.47,126.28 579.3,127.6C580.13,128.92 581.1,129.9 582,129.9C582.9,129.9 583.87,128.92 584.7,127.6C585.53,126.28 585.95,125.77 587,122C588.05,118.23 589.75,112.33 591,105C592.25,97.67 593.33,87.17 594.5,78C595.67,68.83 596.92,58.33 598,50C599.08,41.67 600.03,34.58 601,28C601.97,21.42 603.13,15.17 603.8,10.5C604.47,5.83 604.8,1.75 605,0" fill="none" stroke="#1f8cff" stroke-width="1.1" stroke-linejoin="round" />
<path d="M395,34.7C397.5,34.52 405,33.97 410,33.6C415,33.24 420,32.87 425,32.51C430,32.14 435,31.78 440,31.41C445,31.05 450,30.68 455,30.32C460,29.95 465,29.58 470,29.21C475,28.84 480,28.47 485,28.09C490,27.7 495,27.33 500,26.9C505,26.47 510,26.08 515,25.52C520,24.95 525.83,24.22 530,23.5C534.17,22.78 537.83,21.75 540,21.21C542.17,20.66 542,20.59 543,20.23C544,19.88 545,19.5 546,19.07C547,18.63 548,18.17 549,17.65C550,17.13 551,16.56 552,15.92C553,15.28 554,14.59 555,13.8C556,13.02 557,12.17 558,11.19C559,10.22 560,9.17 561,7.96C562,6.75 563,5.45 564,3.95C565,2.44 566.5,-0.22 567,-1.05" fill="none" stroke="#3f9a6c" stroke-width="1.1" stroke-linejoin="round" />
<path d="M395,51.1C402.5,51.58 425.83,53.1 440,54C454.17,54.9 466.67,55.97 480,56.5C493.33,57.03 510.33,56.87 520,57.2C529.67,57.53 533,57.03 538,58.5C543,59.97 546.5,61.75 550,66C553.5,70.25 556.17,77 559,84C561.83,91 564.5,99.5 567,108C569.5,116.5 572.25,128.5 574,135C575.75,141.5 576.35,144.32 577.5,147C578.65,149.68 579.77,151.1 580.9,151.1C582.03,151.1 583.37,149.18 584.3,147C585.23,144.82 585.47,142.83 586.5,138C587.53,133.17 589.17,125.67 590.5,118C591.83,110.33 593.25,101.33 594.5,92C595.75,82.67 596.83,72 598,62C599.17,52 600.47,40.58 601.5,32C602.53,23.42 603.58,15.83 604.2,10.5C604.82,5.17 605.03,1.75 605.2,0" fill="none" stroke="#3f9a6c" stroke-width="1.1" stroke-linejoin="round" />
<path d="M395,32.6C397.5,32.38 405,31.71 410,31.26C415,30.82 420,30.37 425,29.93C430,29.48 435,29.04 440,28.59C445,28.15 450,27.7 455,27.26C460,26.81 465,26.37 470,25.92C475,25.47 480,25.02 485,24.56C490,24.1 495,23.65 500,23.15C505,22.66 510,22.2 515,21.57C520,20.94 525.83,20.14 530,19.36C534.17,18.57 537.83,17.46 540,16.87C542.17,16.28 542,16.19 543,15.8C544,15.41 545,14.98 546,14.5C547,14.02 548,13.51 549,12.91C550,12.32 551,11.68 552,10.95C553,10.21 554,9.42 555,8.5C556,7.58 557,6.59 558,5.43C559,4.28 560,3.03 561,1.57C562,0.11 563.5,-2.5 564,-3.32" fill="none" stroke="#8a1cff" stroke-width="1.5" stroke-linejoin="round" />
<path d="M395,53.3C399.17,53.85 405.83,55.45 420,56.6C434.17,57.75 466.67,59.35 480,60.2C493.33,61.05 492.5,61.15 500,61.7C507.5,62.25 518.33,62.78 525,63.5C531.67,64.22 535.83,63.92 540,66C544.17,68.08 547.33,72.17 550,76C552.67,79.83 554.27,84.33 556,89C557.73,93.67 558.82,97.17 560.4,104C561.98,110.83 563.82,120.67 565.5,130C567.18,139.33 569,152 570.5,160C572,168 573.42,173.83 574.5,178C575.58,182.17 576.23,183.4 577,185C577.77,186.6 578.38,187.55 579.1,187.6C579.82,187.65 580.73,186.32 581.3,185.3C581.87,184.28 581.8,183.88 582.5,181.5C583.2,179.12 584.5,174.58 585.5,171C586.5,167.42 587.33,166.83 588.5,160C589.67,153.17 591.22,140 592.5,130C593.78,120 594.95,110.83 596.2,100C597.45,89.17 598.78,76.67 600,65C601.22,53.33 602.58,39.08 603.5,30C604.42,20.92 605,15.5 605.5,10.5C606,5.5 606.33,1.75 606.5,0" fill="none" stroke="#8a1cff" stroke-width="1.5" stroke-linejoin="round" />
</g>
<line x1="585.5" y1="62" x2="579.5" y2="184" stroke="#1a1aee" stroke-width="1.6" stroke-dasharray="2.5,2"/>
<path d="M579,191.5 L576.3,185 L582,185.3 Z" fill="#1a1aee"/><circle cx="579.3" cy="186" r="2.2" fill="#1a1aee"/>
<text x="585.5" y="189.8" font-size="10.5" text-anchor="start" fill="#111" font-weight="normal"  stroke="#111" stroke-width="0.12">C3</text>
<line x1="452.7" y1="41.9" x2="438" y2="57" stroke="#1b8ad6" stroke-width="1.3" stroke-dasharray="3,2"/>
<path d="M434,61 L436.5,53.5 L441.5,58.5 Z" fill="#1b8ad6"/>
<text x="433.3" y="73.3" font-size="10.5" text-anchor="start" fill="#111" font-weight="normal"  stroke="#111" stroke-width="0.12">C1</text>
<line x1="520.5" y1="41.9" x2="509" y2="64" stroke="#ff7a7a" stroke-width="1.3" stroke-dasharray="3,2"/>
<path d="M506.9,68 L507,60 L512.6,62.6 Z" fill="#ff7a7a"/>
<text x="510" y="76" font-size="10.5" text-anchor="start" fill="#111" font-weight="normal"  stroke="#111" stroke-width="0.12">C2</text>
<rect x="430.4" y="78.9" width="121.9" height="88" fill="#fff" stroke="#555" stroke-width="0.9"/>
<line x1="430.4" y1="166.9" x2="430.4" y2="169.4" stroke="#444" stroke-width="0.8"/>
<text x="430.4" y="174.3" font-size="7" text-anchor="middle" fill="#222" font-weight="normal" >-2.4</text>
<line x1="452.7" y1="166.9" x2="452.7" y2="169.4" stroke="#444" stroke-width="0.8"/>
<text x="452.7" y="174.3" font-size="7" text-anchor="middle" fill="#222" font-weight="normal" >-2.2</text>
<line x1="475" y1="166.9" x2="475" y2="169.4" stroke="#444" stroke-width="0.8"/>
<text x="475" y="174.3" font-size="7" text-anchor="middle" fill="#222" font-weight="normal" >-2.0</text>
<line x1="497.3" y1="166.9" x2="497.3" y2="169.4" stroke="#444" stroke-width="0.8"/>
<text x="497.3" y="174.3" font-size="7" text-anchor="middle" fill="#222" font-weight="normal" >-1.8</text>
<line x1="519.6" y1="166.9" x2="519.6" y2="169.4" stroke="#444" stroke-width="0.8"/>
<text x="519.6" y="174.3" font-size="7" text-anchor="middle" fill="#222" font-weight="normal" >-1.6</text>
<line x1="541.9" y1="166.9" x2="541.9" y2="169.4" stroke="#444" stroke-width="0.8"/>
<text x="541.9" y="174.3" font-size="7" text-anchor="middle" fill="#222" font-weight="normal" >-1.4</text>
<line x1="441.55" y1="166.9" x2="441.55" y2="168.4" stroke="#444" stroke-width="0.7"/>
<line x1="463.85" y1="166.9" x2="463.85" y2="168.4" stroke="#444" stroke-width="0.7"/>
<line x1="486.15" y1="166.9" x2="486.15" y2="168.4" stroke="#444" stroke-width="0.7"/>
<line x1="508.45" y1="166.9" x2="508.45" y2="168.4" stroke="#444" stroke-width="0.7"/>
<line x1="530.75" y1="166.9" x2="530.75" y2="168.4" stroke="#444" stroke-width="0.7"/>
<line x1="430.4" y1="83.3" x2="427.9" y2="83.3" stroke="#444" stroke-width="0.8"/>
<text x="428" y="85.7" font-size="7" text-anchor="end" fill="#222" font-weight="normal" >0.5</text>
<line x1="430.4" y1="104.2" x2="427.9" y2="104.2" stroke="#444" stroke-width="0.8"/>
<text x="428" y="106.6" font-size="7" text-anchor="end" fill="#222" font-weight="normal" >0.0</text>
<line x1="430.4" y1="125.1" x2="427.9" y2="125.1" stroke="#444" stroke-width="0.8"/>
<text x="428" y="127.5" font-size="7" text-anchor="end" fill="#222" font-weight="normal" >-0.5</text>
<line x1="430.4" y1="146" x2="427.9" y2="146" stroke="#444" stroke-width="0.8"/>
<text x="428" y="148.4" font-size="7" text-anchor="end" fill="#222" font-weight="normal" >-1.0</text>
<line x1="430.4" y1="166.9" x2="427.9" y2="166.9" stroke="#444" stroke-width="0.8"/>
<text x="428" y="169.3" font-size="7" text-anchor="end" fill="#222" font-weight="normal" >-1.5</text>
<line x1="430.4" y1="93.75" x2="428.9" y2="93.75" stroke="#444" stroke-width="0.7"/>
<line x1="430.4" y1="114.65" x2="428.9" y2="114.65" stroke="#444" stroke-width="0.7"/>
<line x1="430.4" y1="135.55" x2="428.9" y2="135.55" stroke="#444" stroke-width="0.7"/>
<line x1="430.4" y1="156.45" x2="428.9" y2="156.45" stroke="#444" stroke-width="0.7"/>
<text x="491" y="185" font-size="8.5" text-anchor="middle" fill="#222" font-weight="normal"  stroke="#222" stroke-width="0.12">Log [<tspan font-style="italic">&#957;</tspan> (V s<tspan dy="-3" font-size="5.5">-1</tspan><tspan dy="3">)]</tspan></text>
<text x="0" y="0" font-size="8.5" text-anchor="middle" fill="#222" transform="translate(409,129.6) rotate(-90)" dominant-baseline="central"  stroke="#222" stroke-width="0.12">Log [|i<tspan dy="2" font-size="5.5">c</tspan><tspan dy="-2"> (mA cm</tspan><tspan dy="-3" font-size="5.5">-2</tspan><tspan dy="3">)|]</tspan></text>
<line x1="439.32" y1="118.16" x2="510.68" y2="87.81" stroke="#2525ee" stroke-width="0.55"/>
<circle cx="441.55" cy="117.24" r="2.0" fill="#2525ee" stroke="#2525ee" stroke-width="0.3"/>
<circle cx="463.85" cy="106.08" r="2.0" fill="#2525ee" stroke="#2525ee" stroke-width="0.3"/>
<circle cx="475" cy="101.02" r="2.0" fill="#2525ee" stroke="#2525ee" stroke-width="0.3"/>
<circle cx="483.92" cy="97.93" r="2.0" fill="#2525ee" stroke="#2525ee" stroke-width="0.3"/>
<circle cx="495.07" cy="93.75" r="2.0" fill="#2525ee" stroke="#2525ee" stroke-width="0.3"/>
<circle cx="508.45" cy="88.73" r="2.0" fill="#2525ee" stroke="#2525ee" stroke-width="0.3"/>
<line x1="439.32" y1="150.51" x2="510.68" y2="123.3" stroke="#ff8080" stroke-width="0.55"/>
<circle cx="441.55" cy="149.59" r="2.0" fill="#ff8080" stroke="#ff8080" stroke-width="0.3"/>
<circle cx="463.85" cy="140.52" r="2.0" fill="#ff8080" stroke="#ff8080" stroke-width="0.3"/>
<circle cx="475" cy="137.05" r="2.0" fill="#ff8080" stroke="#ff8080" stroke-width="0.3"/>
<circle cx="483.92" cy="133.54" r="2.0" fill="#ff8080" stroke="#ff8080" stroke-width="0.3"/>
<circle cx="495.07" cy="130.07" r="2.0" fill="#ff8080" stroke="#ff8080" stroke-width="0.3"/>
<circle cx="508.45" cy="124.22" r="2.0" fill="#ff8080" stroke="#ff8080" stroke-width="0.3"/>
<line x1="439.32" y1="156.95" x2="510.68" y2="127.94" stroke="#2a90d0" stroke-width="0.55"/>
<circle cx="441.55" cy="156.03" r="2.0" fill="#2a90d0" stroke="#2a90d0" stroke-width="0.3"/>
<circle cx="463.85" cy="146" r="2.0" fill="#2a90d0" stroke="#2a90d0" stroke-width="0.3"/>
<circle cx="475" cy="142.11" r="2.0" fill="#2a90d0" stroke="#2a90d0" stroke-width="0.3"/>
<circle cx="483.92" cy="138.64" r="2.0" fill="#2a90d0" stroke="#2a90d0" stroke-width="0.3"/>
<circle cx="495.07" cy="134.25" r="2.0" fill="#2a90d0" stroke="#2a90d0" stroke-width="0.3"/>
<circle cx="508.45" cy="128.86" r="2.0" fill="#2a90d0" stroke="#2a90d0" stroke-width="0.3"/>
<text x="438.8" y="111.8" font-size="8.8" text-anchor="start" fill="#222" font-weight="normal"  stroke="#222" stroke-width="0.12">C3</text>
<text x="438.8" y="145.4" font-size="8.8" text-anchor="start" fill="#222" font-weight="normal"  stroke="#222" stroke-width="0.12">C2</text>
<text x="438.8" y="164.2" font-size="8.8" text-anchor="start" fill="#222" font-weight="normal"  stroke="#222" stroke-width="0.12">C1</text>
<text x="514.5" y="92.2" font-size="7.6" text-anchor="start" fill="#2020e0" font-weight="normal" textLength="37" lengthAdjust="spacingAndGlyphs">1.122 &#177; 0.044</text>
<text x="514.5" y="100.8" font-size="7.6" text-anchor="start" fill="#2020e0" font-weight="normal" textLength="35" lengthAdjust="spacingAndGlyphs">R<tspan dy="-3" font-size="5">2</tspan><tspan dy="3"> = 0.99391</tspan></text>
<text x="514.5" y="116" font-size="7.6" text-anchor="start" fill="#ff8585" font-weight="normal" textLength="37" lengthAdjust="spacingAndGlyphs">0.967 &#177; 0.007</text>
<text x="514.5" y="124.2" font-size="7.6" text-anchor="start" fill="#ff8585" font-weight="normal" textLength="35" lengthAdjust="spacingAndGlyphs">R<tspan dy="-3" font-size="5">2</tspan><tspan dy="3"> = 0.99977</tspan></text>
<text x="514.5" y="140.8" font-size="7.6" text-anchor="start" fill="#2a8fd0" font-weight="normal" textLength="37" lengthAdjust="spacingAndGlyphs">1.058 &#177; 0.022</text>
<text x="514.5" y="148.7" font-size="7.6" text-anchor="start" fill="#2a8fd0" font-weight="normal" textLength="35" lengthAdjust="spacingAndGlyphs">R<tspan dy="-3" font-size="5">2</tspan><tspan dy="3"> = 0.99829</tspan></text>
<defs><clipPath id="clipC"><rect x="52.8" y="247" width="256.6" height="183.1"/></clipPath></defs>
<line x1="84.5" y1="247" x2="84.5" y2="430.1" stroke="#ff9a30" stroke-width="1.3"/>
<line x1="95" y1="247" x2="95" y2="430.1" stroke="#3f9a6c" stroke-width="1.3" stroke-dasharray="1.6,2"/>
<line x1="112.5" y1="259.2" x2="136.6" y2="259.2" stroke="#ff7a7a" stroke-width="1.3"/>
<line x1="112.5" y1="275.5" x2="136.6" y2="275.5" stroke="#1677e6" stroke-width="1.5"/>
<text x="139.6" y="263.4" font-size="10.6" fill="#111" stroke="#111" stroke-width="0.12">Co<tspan dy="3" font-size="7">3</tspan><tspan dy="-3">O</tspan><tspan dy="3" font-size="7">4</tspan><tspan dy="-3"></tspan></text>
<text x="139.6" y="279.7" font-size="10.6" fill="#111" stroke="#111" stroke-width="0.12">Co<tspan dy="3" font-size="7">3</tspan><tspan dy="-3">O</tspan><tspan dy="3" font-size="7">4</tspan><tspan dy="-3">/CeO<tspan dy="3" font-size="7">2</tspan></tspan></text>
<line x1="85" y1="314.3" x2="108" y2="314.3" stroke="#ff9a30" stroke-width="1.2" stroke-dasharray="1.5,1.5"/>
<path d="M113.2,314.3 L107,312 L107,316.6 Z" fill="#ff9a30"/>
<text x="113.5" y="317.8" font-size="11" fill="#ff9a30" stroke="#ff9a30" stroke-width="0.12">E<tspan dy="3" font-size="7">eq</tspan><tspan dy="-3">(O</tspan><tspan dy="3" font-size="7">2</tspan><tspan dy="-3">/H</tspan><tspan dy="3" font-size="7">2</tspan><tspan dy="-3">O)</tspan></text>
<line x1="95.5" y1="334.6" x2="108" y2="334.6" stroke="#3f9a6c" stroke-width="1.2" stroke-dasharray="1.5,1.5"/>
<path d="M113.2,334.6 L107,332.3 L107,336.9 Z" fill="#3f9a6c"/>
<text x="113.5" y="338.6" font-size="11" fill="#3f9a6c" stroke="#3f9a6c" stroke-width="0.12">E<tspan dy="3" font-size="7">eq</tspan><tspan dy="-3">(O</tspan><tspan dy="3" font-size="7">2</tspan><tspan dy="-3">/D</tspan><tspan dy="3" font-size="7">2</tspan><tspan dy="-3">O)</tspan></text>
<line x1="85" y1="379.5" x2="91" y2="379.5" stroke="#ff1a1a" stroke-width="1.1" stroke-dasharray="1.5,1"/>
<path d="M95,379.5 L90,377.5 L90,381.5 Z" fill="#ff1a1a"/>
<text x="100.4" y="382.8" font-size="10.5" text-anchor="start" fill="#ff1a1a" font-weight="normal"  stroke="#ff1a1a" stroke-width="0.12">33 mV</text>
<g clip-path="url(#clipC)">
<path d="M83,418.3C90.83,418.18 115.5,417.87 130,417.6C144.5,417.33 160,417.27 170,416.7C180,416.13 184.97,415.68 190,414.2C195.03,412.72 196.47,412.33 200.2,407.8C203.93,403.27 208.63,396.27 212.4,387C216.17,377.73 220.05,363.8 222.8,352.2C225.55,340.6 226.63,333.05 228.9,317.4C231.17,301.75 235.15,268.15 236.4,258.3" fill="none" stroke="#1677e6" stroke-width="1.5" stroke-linejoin="round" />
<path d="M83,420.3C90.83,420.17 115.5,419.82 130,419.5C144.5,419.18 159.17,418.98 170,418.4C180.83,417.82 188.67,417.77 195,416C201.33,414.23 204.23,412.63 208,407.8C211.77,402.97 214.55,396.27 217.6,387C220.65,377.73 223.98,363.8 226.3,352.2C228.62,340.6 229.82,333.05 231.5,317.4C233.18,301.75 235.58,268.15 236.4,258.3" fill="none" stroke="#1677e6" stroke-width="1.5" stroke-linejoin="round" />
<path d="M83,419.3C94.17,419.13 132.17,418.77 150,418.3C167.83,417.83 180,417.55 190,416.5C200,415.45 204.67,413.92 210,412C215.33,410.08 218.55,409.17 222,405C225.45,400.83 227.95,395.8 230.7,387C233.45,378.2 236.05,363.8 238.5,352.2C240.95,340.6 243.65,326.92 245.4,317.4C247.15,307.88 248.4,298.82 249,295.1" fill="none" stroke="#1677e6" stroke-width="1.3" stroke-dasharray="1.3,1" stroke-linejoin="round" />
<path d="M83,420.5C94.17,420.35 130.5,419.92 150,419.6C169.5,419.28 188.67,419.45 200,418.6C211.33,417.75 213,416.77 218,414.5C223,412.23 226.88,409.58 230,405C233.12,400.42 234.7,395.8 236.7,387C238.7,378.2 240.25,363.8 242,352.2C243.75,340.6 246.03,326.92 247.2,317.4C248.37,307.88 248.7,298.82 249,295.1" fill="none" stroke="#1677e6" stroke-width="1.3" stroke-dasharray="1.3,1" stroke-linejoin="round" />
<path d="M83,419.3C97.5,419.25 151.33,419.17 170,419C188.67,418.83 187.35,419.3 195,418.3C202.65,417.3 210.4,415.62 215.9,413C221.4,410.38 224.67,405.48 228,402.6C231.33,399.72 233.23,398.63 235.9,395.7C238.57,392.77 241.53,389.35 244,385C246.47,380.65 248.37,378.12 250.7,369.6C253.03,361.08 256.78,339.85 258,333.9" fill="none" stroke="#ff7070" stroke-width="1.3" stroke-linejoin="round" />
<path d="M83,419.6C97.5,419.5 151.33,419.02 170,419C188.67,418.98 189.38,419.18 195,419.5C200.62,419.82 200.52,420.23 203.7,420.9C206.88,421.57 211.38,423.48 214.1,423.5C216.82,423.52 217.38,422.75 220,421C222.62,419.25 226.13,417.22 229.8,413C233.47,408.78 238.23,402.93 242,395.7C245.77,388.47 249.73,379.9 252.4,369.6C255.07,359.3 257.07,339.85 258,333.9" fill="none" stroke="#ff7070" stroke-width="1.3" stroke-linejoin="round" />
<path d="M83,419.6C97.5,419.53 151.33,419.38 170,419.2C188.67,419.02 186.48,419.23 195,418.5C203.52,417.77 215.02,416 221.1,414.8C227.18,413.6 227.45,412.75 231.5,411.3C235.55,409.85 241.48,407.98 245.4,406.1C249.32,404.22 252.1,403.18 255,400C257.9,396.82 260.48,393.38 262.8,387C265.12,380.62 267.88,365.92 268.9,361.7" fill="none" stroke="#ff7070" stroke-width="1.1" stroke-dasharray="1.2,1" stroke-linejoin="round" />
<path d="M83,420C97.5,419.92 150.5,419.57 170,419.5C189.5,419.43 192.07,419.23 200,419.6C207.93,419.97 213.22,421 217.6,421.7C221.98,422.4 222.82,424.08 226.3,423.8C229.78,423.52 234.15,422.67 238.5,420C242.85,417.33 248.82,411.63 252.4,407.8C255.98,403.97 257.97,400.47 260,397C262.03,393.53 263.12,392.88 264.6,387C266.08,381.12 268.18,365.92 268.9,361.7" fill="none" stroke="#ff7070" stroke-width="1.1" stroke-dasharray="1.2,1" stroke-linejoin="round" />
</g>
<defs><clipPath id="clipD"><rect x="393.6" y="245" width="257.2" height="191.3"/></clipPath></defs>
<line x1="393.6" y1="340.5" x2="650.8" y2="340.5" stroke="#ff2020" stroke-width="1.0" stroke-dasharray="1.5,1.5"/>
<line x1="393.6" y1="372.5" x2="650.8" y2="372.5" stroke="#ff2020" stroke-width="1.0" stroke-dasharray="1.5,1.5"/>
<text x="397.3" y="337.9" font-size="10" text-anchor="start" fill="#ff2020" font-weight="normal"  stroke="#ff2020" stroke-width="0.12">KIE = 1.5</text>
<text x="397.3" y="368.2" font-size="10" text-anchor="start" fill="#ff2020" font-weight="normal"  stroke="#ff2020" stroke-width="0.12">KIE = 1</text>
<line x1="405.6" y1="254.9" x2="428.7" y2="254.9" stroke="#ff8080" stroke-width="3.4"/>
<line x1="405.6" y1="266.5" x2="428.7" y2="266.5" stroke="#1a7ff0" stroke-width="3.4"/>
<text x="433.4" y="258.6" font-size="10" fill="#111" stroke="#111" stroke-width="0.12">Co<tspan dy="3.3" font-size="6.5">3</tspan><tspan dy="-3.3">O</tspan><tspan dy="3.3" font-size="6.5">4</tspan><tspan dy="-3.3"></tspan></text>
<text x="433.4" y="270.2" font-size="10" fill="#111" stroke="#111" stroke-width="0.12">Co<tspan dy="3.3" font-size="6.5">3</tspan><tspan dy="-3.3">O</tspan><tspan dy="3.3" font-size="6.5">4</tspan><tspan dy="-3.3">/CeO<tspan dy="3.3" font-size="6.5">2</tspan></tspan></text>
<g clip-path="url(#clipD)">
<path d="M393.6,424.7C408,424.68 455.6,424.63 480,424.6C504.4,424.57 526.67,424.63 540,424.5C553.33,424.37 553.42,424.9 560,423.8C566.58,422.7 573.98,420.33 579.5,417.9C585.02,415.47 588.55,411.63 593.1,409.2C597.65,406.77 602.57,405.25 606.8,403.3C611.03,401.35 614.6,401.07 618.5,397.5C622.4,393.93 626.62,387.43 630.2,381.9C633.78,376.37 636.57,371.13 640,364.3C643.43,357.47 649,344.8 650.8,340.9" fill="none" stroke="#ff7070" stroke-width="1.1" stroke-linejoin="round" />
<path d="M393.6,425C408,425 455.6,425.02 480,425C504.4,424.98 526.67,424.93 540,424.9C553.33,424.87 553.42,425.32 560,424.8C566.58,424.28 573.65,423.6 579.5,421.8C585.35,420 590.23,416.27 595.1,414C599.97,411.73 604.8,409.5 608.7,408.2C612.6,406.9 614.92,407.83 618.5,406.2C622.08,404.57 626.3,401.8 630.2,398.4C634.1,395 638.47,389.85 641.9,385.8C645.33,381.75 649.32,376.05 650.8,374.1" fill="none" stroke="#ff7070" stroke-width="1.1" stroke-dasharray="3,2" stroke-linejoin="round" />
<path d="M393.6,423.8C404.67,423.77 442.27,423.73 460,423.6C477.73,423.47 486.38,423.5 500,423C513.62,422.5 531.7,422.25 541.7,420.6C551.7,418.95 554.68,416.95 560,413.1C565.32,409.25 569.38,404.33 573.6,397.5C577.82,390.67 581.72,381.53 585.3,372.1C588.88,362.67 591.68,352.92 595.1,340.9C598.52,328.88 602.82,312.15 605.8,300C608.78,287.85 610.97,278 613,268C615.03,258 617.17,244.67 618,240" fill="none" stroke="#1677e6" stroke-width="1.2" stroke-linejoin="round" />
<path d="M393.6,424C404.67,423.97 442.27,423.92 460,423.8C477.73,423.68 486.38,423.68 500,423.3C513.62,422.92 531.7,422.55 541.7,421.5C551.7,420.45 555,419.05 560,417C565,414.95 567.8,412.78 571.7,409.2C575.6,405.62 579.33,401.68 583.4,395.5C587.47,389.32 592.2,380.87 596.1,372.1C600,363.33 603.13,354.92 606.8,342.9C610.47,330.88 615.15,312.15 618.1,300C621.05,287.85 622.8,278.28 624.5,270C626.2,261.72 627.67,253.58 628.3,250.3" fill="none" stroke="#1677e6" stroke-width="1.2" stroke-dasharray="3,2" stroke-linejoin="round" />
<path d="M393.6,389.6 m-1.6,0 a1.6,1.6 0 1,0 3.2,0 a1.6,1.6 0 1,0 -3.2,0M396.1,389.61 m-1.6,0 a1.6,1.6 0 1,0 3.2,0 a1.6,1.6 0 1,0 -3.2,0M398.6,389.62 m-1.6,0 a1.6,1.6 0 1,0 3.2,0 a1.6,1.6 0 1,0 -3.2,0M401.1,389.64 m-1.6,0 a1.6,1.6 0 1,0 3.2,0 a1.6,1.6 0 1,0 -3.2,0M403.6,389.65 m-1.6,0 a1.6,1.6 0 1,0 3.2,0 a1.6,1.6 0 1,0 -3.2,0M406.1,389.65 m-1.6,0 a1.6,1.6 0 1,0 3.2,0 a1.6,1.6 0 1,0 -3.2,0M408.6,389.65 m-1.6,0 a1.6,1.6 0 1,0 3.2,0 a1.6,1.6 0 1,0 -3.2,0M411.1,389.64 m-1.6,0 a1.6,1.6 0 1,0 3.2,0 a1.6,1.6 0 1,0 -3.2,0M413.6,389.62 m-1.6,0 a1.6,1.6 0 1,0 3.2,0 a1.6,1.6 0 1,0 -3.2,0M416.1,389.58 m-1.6,0 a1.6,1.6 0 1,0 3.2,0 a1.6,1.6 0 1,0 -3.2,0M418.6,389.53 m-1.6,0 a1.6,1.6 0 1,0 3.2,0 a1.6,1.6 0 1,0 -3.2,0M421.1,389.47 m-1.6,0 a1.6,1.6 0 1,0 3.2,0 a1.6,1.6 0 1,0 -3.2,0M423.6,389.41 m-1.6,0 a1.6,1.6 0 1,0 3.2,0 a1.6,1.6 0 1,0 -3.2,0M426.1,389.36 m-1.6,0 a1.6,1.6 0 1,0 3.2,0 a1.6,1.6 0 1,0 -3.2,0M428.6,389.3 m-1.6,0 a1.6,1.6 0 1,0 3.2,0 a1.6,1.6 0 1,0 -3.2,0M431.1,389.24 m-1.6,0 a1.6,1.6 0 1,0 3.2,0 a1.6,1.6 0 1,0 -3.2,0M433.59,389.17 m-1.6,0 a1.6,1.6 0 1,0 3.2,0 a1.6,1.6 0 1,0 -3.2,0M436.09,389.1 m-1.6,0 a1.6,1.6 0 1,0 3.2,0 a1.6,1.6 0 1,0 -3.2,0M438.59,389.03 m-1.6,0 a1.6,1.6 0 1,0 3.2,0 a1.6,1.6 0 1,0 -3.2,0M441.09,388.94 m-1.6,0 a1.6,1.6 0 1,0 3.2,0 a1.6,1.6 0 1,0 -3.2,0M443.59,388.85 m-1.6,0 a1.6,1.6 0 1,0 3.2,0 a1.6,1.6 0 1,0 -3.2,0M446.09,388.74 m-1.6,0 a1.6,1.6 0 1,0 3.2,0 a1.6,1.6 0 1,0 -3.2,0M448.58,388.63 m-1.6,0 a1.6,1.6 0 1,0 3.2,0 a1.6,1.6 0 1,0 -3.2,0M451.08,388.5 m-1.6,0 a1.6,1.6 0 1,0 3.2,0 a1.6,1.6 0 1,0 -3.2,0M453.58,388.35 m-1.6,0 a1.6,1.6 0 1,0 3.2,0 a1.6,1.6 0 1,0 -3.2,0M456.07,388.2 m-1.6,0 a1.6,1.6 0 1,0 3.2,0 a1.6,1.6 0 1,0 -3.2,0M458.56,388.01 m-1.6,0 a1.6,1.6 0 1,0 3.2,0 a1.6,1.6 0 1,0 -3.2,0M461.06,387.8 m-1.6,0 a1.6,1.6 0 1,0 3.2,0 a1.6,1.6 0 1,0 -3.2,0M463.55,387.57 m-1.6,0 a1.6,1.6 0 1,0 3.2,0 a1.6,1.6 0 1,0 -3.2,0M466.03,387.31 m-1.6,0 a1.6,1.6 0 1,0 3.2,0 a1.6,1.6 0 1,0 -3.2,0M468.52,387.03 m-1.6,0 a1.6,1.6 0 1,0 3.2,0 a1.6,1.6 0 1,0 -3.2,0M471,386.73 m-1.6,0 a1.6,1.6 0 1,0 3.2,0 a1.6,1.6 0 1,0 -3.2,0M473.48,386.42 m-1.6,0 a1.6,1.6 0 1,0 3.2,0 a1.6,1.6 0 1,0 -3.2,0M475.96,386.09 m-1.6,0 a1.6,1.6 0 1,0 3.2,0 a1.6,1.6 0 1,0 -3.2,0M478.44,385.76 m-1.6,0 a1.6,1.6 0 1,0 3.2,0 a1.6,1.6 0 1,0 -3.2,0M480.91,385.42 m-1.6,0 a1.6,1.6 0 1,0 3.2,0 a1.6,1.6 0 1,0 -3.2,0M483.39,385.08 m-1.6,0 a1.6,1.6 0 1,0 3.2,0 a1.6,1.6 0 1,0 -3.2,0M485.86,384.74 m-1.6,0 a1.6,1.6 0 1,0 3.2,0 a1.6,1.6 0 1,0 -3.2,0M488.34,384.39 m-1.6,0 a1.6,1.6 0 1,0 3.2,0 a1.6,1.6 0 1,0 -3.2,0M490.82,384.05 m-1.6,0 a1.6,1.6 0 1,0 3.2,0 a1.6,1.6 0 1,0 -3.2,0M493.3,383.72 m-1.6,0 a1.6,1.6 0 1,0 3.2,0 a1.6,1.6 0 1,0 -3.2,0M495.77,383.4 m-1.6,0 a1.6,1.6 0 1,0 3.2,0 a1.6,1.6 0 1,0 -3.2,0M498.26,383.09 m-1.6,0 a1.6,1.6 0 1,0 3.2,0 a1.6,1.6 0 1,0 -3.2,0M500.74,382.82 m-1.6,0 a1.6,1.6 0 1,0 3.2,0 a1.6,1.6 0 1,0 -3.2,0M503.23,382.59 m-1.6,0 a1.6,1.6 0 1,0 3.2,0 a1.6,1.6 0 1,0 -3.2,0M505.72,382.4 m-1.6,0 a1.6,1.6 0 1,0 3.2,0 a1.6,1.6 0 1,0 -3.2,0M508.22,382.25 m-1.6,0 a1.6,1.6 0 1,0 3.2,0 a1.6,1.6 0 1,0 -3.2,0M510.72,382.16 m-1.6,0 a1.6,1.6 0 1,0 3.2,0 a1.6,1.6 0 1,0 -3.2,0M513.22,382.1 m-1.6,0 a1.6,1.6 0 1,0 3.2,0 a1.6,1.6 0 1,0 -3.2,0M515.72,382.05 m-1.6,0 a1.6,1.6 0 1,0 3.2,0 a1.6,1.6 0 1,0 -3.2,0M518.21,381.94 m-1.6,0 a1.6,1.6 0 1,0 3.2,0 a1.6,1.6 0 1,0 -3.2,0M520.71,381.75 m-1.6,0 a1.6,1.6 0 1,0 3.2,0 a1.6,1.6 0 1,0 -3.2,0M523.19,381.52 m-1.6,0 a1.6,1.6 0 1,0 3.2,0 a1.6,1.6 0 1,0 -3.2,0M525.68,381.28 m-1.6,0 a1.6,1.6 0 1,0 3.2,0 a1.6,1.6 0 1,0 -3.2,0M528.17,381.03 m-1.6,0 a1.6,1.6 0 1,0 3.2,0 a1.6,1.6 0 1,0 -3.2,0M530.66,380.77 m-1.6,0 a1.6,1.6 0 1,0 3.2,0 a1.6,1.6 0 1,0 -3.2,0M533.14,380.46 m-1.6,0 a1.6,1.6 0 1,0 3.2,0 a1.6,1.6 0 1,0 -3.2,0M535.61,380.11 m-1.6,0 a1.6,1.6 0 1,0 3.2,0 a1.6,1.6 0 1,0 -3.2,0M538.07,379.66 m-1.6,0 a1.6,1.6 0 1,0 3.2,0 a1.6,1.6 0 1,0 -3.2,0M540.5,379.07 m-1.6,0 a1.6,1.6 0 1,0 3.2,0 a1.6,1.6 0 1,0 -3.2,0M542.85,378.22 m-1.6,0 a1.6,1.6 0 1,0 3.2,0 a1.6,1.6 0 1,0 -3.2,0M544.98,376.92 m-1.6,0 a1.6,1.6 0 1,0 3.2,0 a1.6,1.6 0 1,0 -3.2,0M546.72,375.14 m-1.6,0 a1.6,1.6 0 1,0 3.2,0 a1.6,1.6 0 1,0 -3.2,0M548.29,373.19 m-1.6,0 a1.6,1.6 0 1,0 3.2,0 a1.6,1.6 0 1,0 -3.2,0M550.02,371.39 m-1.6,0 a1.6,1.6 0 1,0 3.2,0 a1.6,1.6 0 1,0 -3.2,0M551.93,369.77 m-1.6,0 a1.6,1.6 0 1,0 3.2,0 a1.6,1.6 0 1,0 -3.2,0M553.86,368.19 m-1.6,0 a1.6,1.6 0 1,0 3.2,0 a1.6,1.6 0 1,0 -3.2,0M555.77,366.57 m-1.6,0 a1.6,1.6 0 1,0 3.2,0 a1.6,1.6 0 1,0 -3.2,0M557.61,364.89 m-1.6,0 a1.6,1.6 0 1,0 3.2,0 a1.6,1.6 0 1,0 -3.2,0M559.36,363.1 m-1.6,0 a1.6,1.6 0 1,0 3.2,0 a1.6,1.6 0 1,0 -3.2,0M560.99,361.21 m-1.6,0 a1.6,1.6 0 1,0 3.2,0 a1.6,1.6 0 1,0 -3.2,0M562.51,359.22 m-1.6,0 a1.6,1.6 0 1,0 3.2,0 a1.6,1.6 0 1,0 -3.2,0M563.97,357.19 m-1.6,0 a1.6,1.6 0 1,0 3.2,0 a1.6,1.6 0 1,0 -3.2,0M565.39,355.13 m-1.6,0 a1.6,1.6 0 1,0 3.2,0 a1.6,1.6 0 1,0 -3.2,0M566.78,353.05 m-1.6,0 a1.6,1.6 0 1,0 3.2,0 a1.6,1.6 0 1,0 -3.2,0M568.16,350.97 m-1.6,0 a1.6,1.6 0 1,0 3.2,0 a1.6,1.6 0 1,0 -3.2,0M569.56,348.9 m-1.6,0 a1.6,1.6 0 1,0 3.2,0 a1.6,1.6 0 1,0 -3.2,0M570.94,346.82 m-1.6,0 a1.6,1.6 0 1,0 3.2,0 a1.6,1.6 0 1,0 -3.2,0M572.26,344.69 m-1.6,0 a1.6,1.6 0 1,0 3.2,0 a1.6,1.6 0 1,0 -3.2,0M573.55,342.55 m-1.6,0 a1.6,1.6 0 1,0 3.2,0 a1.6,1.6 0 1,0 -3.2,0M574.89,340.44 m-1.6,0 a1.6,1.6 0 1,0 3.2,0 a1.6,1.6 0 1,0 -3.2,0M576.34,338.41 m-1.6,0 a1.6,1.6 0 1,0 3.2,0 a1.6,1.6 0 1,0 -3.2,0M577.95,336.5 m-1.6,0 a1.6,1.6 0 1,0 3.2,0 a1.6,1.6 0 1,0 -3.2,0M579.63,334.64 m-1.6,0 a1.6,1.6 0 1,0 3.2,0 a1.6,1.6 0 1,0 -3.2,0M581.35,332.83 m-1.6,0 a1.6,1.6 0 1,0 3.2,0 a1.6,1.6 0 1,0 -3.2,0M583.21,331.15 m-1.6,0 a1.6,1.6 0 1,0 3.2,0 a1.6,1.6 0 1,0 -3.2,0M585.29,329.78 m-1.6,0 a1.6,1.6 0 1,0 3.2,0 a1.6,1.6 0 1,0 -3.2,0M587.69,329.23 m-1.6,0 a1.6,1.6 0 1,0 3.2,0 a1.6,1.6 0 1,0 -3.2,0M590.06,329.95 m-1.6,0 a1.6,1.6 0 1,0 3.2,0 a1.6,1.6 0 1,0 -3.2,0M592.13,331.35 m-1.6,0 a1.6,1.6 0 1,0 3.2,0 a1.6,1.6 0 1,0 -3.2,0M594,333 m-1.6,0 a1.6,1.6 0 1,0 3.2,0 a1.6,1.6 0 1,0 -3.2,0M595.78,334.76 m-1.6,0 a1.6,1.6 0 1,0 3.2,0 a1.6,1.6 0 1,0 -3.2,0M597.51,336.56 m-1.6,0 a1.6,1.6 0 1,0 3.2,0 a1.6,1.6 0 1,0 -3.2,0M599.05,338.53 m-1.6,0 a1.6,1.6 0 1,0 3.2,0 a1.6,1.6 0 1,0 -3.2,0M600.43,340.62 m-1.6,0 a1.6,1.6 0 1,0 3.2,0 a1.6,1.6 0 1,0 -3.2,0M601.74,342.74 m-1.6,0 a1.6,1.6 0 1,0 3.2,0 a1.6,1.6 0 1,0 -3.2,0M603.12,344.83 m-1.6,0 a1.6,1.6 0 1,0 3.2,0 a1.6,1.6 0 1,0 -3.2,0M604.76,346.71 m-1.6,0 a1.6,1.6 0 1,0 3.2,0 a1.6,1.6 0 1,0 -3.2,0M606.65,348.33 m-1.6,0 a1.6,1.6 0 1,0 3.2,0 a1.6,1.6 0 1,0 -3.2,0M609.06,348.61 m-1.6,0 a1.6,1.6 0 1,0 3.2,0 a1.6,1.6 0 1,0 -3.2,0M611.22,347.39 m-1.6,0 a1.6,1.6 0 1,0 3.2,0 a1.6,1.6 0 1,0 -3.2,0M613.05,345.69 m-1.6,0 a1.6,1.6 0 1,0 3.2,0 a1.6,1.6 0 1,0 -3.2,0M614.68,343.79 m-1.6,0 a1.6,1.6 0 1,0 3.2,0 a1.6,1.6 0 1,0 -3.2,0M615.94,341.64 m-1.6,0 a1.6,1.6 0 1,0 3.2,0 a1.6,1.6 0 1,0 -3.2,0M617,339.37 m-1.6,0 a1.6,1.6 0 1,0 3.2,0 a1.6,1.6 0 1,0 -3.2,0M618.11,337.13 m-1.6,0 a1.6,1.6 0 1,0 3.2,0 a1.6,1.6 0 1,0 -3.2,0M619.49,335.06 m-1.6,0 a1.6,1.6 0 1,0 3.2,0 a1.6,1.6 0 1,0 -3.2,0M621.31,333.35 m-1.6,0 a1.6,1.6 0 1,0 3.2,0 a1.6,1.6 0 1,0 -3.2,0M623.37,331.93 m-1.6,0 a1.6,1.6 0 1,0 3.2,0 a1.6,1.6 0 1,0 -3.2,0M625.54,330.71 m-1.6,0 a1.6,1.6 0 1,0 3.2,0 a1.6,1.6 0 1,0 -3.2,0M627.81,329.65 m-1.6,0 a1.6,1.6 0 1,0 3.2,0 a1.6,1.6 0 1,0 -3.2,0M630.16,328.79 m-1.6,0 a1.6,1.6 0 1,0 3.2,0 a1.6,1.6 0 1,0 -3.2,0M632.59,328.24 m-1.6,0 a1.6,1.6 0 1,0 3.2,0 a1.6,1.6 0 1,0 -3.2,0M635.08,328.19 m-1.6,0 a1.6,1.6 0 1,0 3.2,0 a1.6,1.6 0 1,0 -3.2,0M637.53,328.68 m-1.6,0 a1.6,1.6 0 1,0 3.2,0 a1.6,1.6 0 1,0 -3.2,0M639.9,329.46 m-1.6,0 a1.6,1.6 0 1,0 3.2,0 a1.6,1.6 0 1,0 -3.2,0M642.25,330.34 m-1.6,0 a1.6,1.6 0 1,0 3.2,0 a1.6,1.6 0 1,0 -3.2,0M644.53,331.36 m-1.6,0 a1.6,1.6 0 1,0 3.2,0 a1.6,1.6 0 1,0 -3.2,0M646.74,332.52 m-1.6,0 a1.6,1.6 0 1,0 3.2,0 a1.6,1.6 0 1,0 -3.2,0M648.92,333.74 m-1.6,0 a1.6,1.6 0 1,0 3.2,0 a1.6,1.6 0 1,0 -3.2,0M651.09,334.99 m-1.6,0 a1.6,1.6 0 1,0 3.2,0 a1.6,1.6 0 1,0 -3.2,0" fill="none" stroke="#ff8c8c" stroke-width="1.2"/>
<path d="M393.6,379.6 m-1.6,0 a1.6,1.6 0 1,0 3.2,0 a1.6,1.6 0 1,0 -3.2,0M396.09,379.39 m-1.6,0 a1.6,1.6 0 1,0 3.2,0 a1.6,1.6 0 1,0 -3.2,0M398.58,379.17 m-1.6,0 a1.6,1.6 0 1,0 3.2,0 a1.6,1.6 0 1,0 -3.2,0M401.07,378.96 m-1.6,0 a1.6,1.6 0 1,0 3.2,0 a1.6,1.6 0 1,0 -3.2,0M403.56,378.75 m-1.6,0 a1.6,1.6 0 1,0 3.2,0 a1.6,1.6 0 1,0 -3.2,0M406.05,378.54 m-1.6,0 a1.6,1.6 0 1,0 3.2,0 a1.6,1.6 0 1,0 -3.2,0M408.55,378.32 m-1.6,0 a1.6,1.6 0 1,0 3.2,0 a1.6,1.6 0 1,0 -3.2,0M411.04,378.11 m-1.6,0 a1.6,1.6 0 1,0 3.2,0 a1.6,1.6 0 1,0 -3.2,0M413.53,377.9 m-1.6,0 a1.6,1.6 0 1,0 3.2,0 a1.6,1.6 0 1,0 -3.2,0M416.02,377.69 m-1.6,0 a1.6,1.6 0 1,0 3.2,0 a1.6,1.6 0 1,0 -3.2,0M418.51,377.47 m-1.6,0 a1.6,1.6 0 1,0 3.2,0 a1.6,1.6 0 1,0 -3.2,0M421,377.26 m-1.6,0 a1.6,1.6 0 1,0 3.2,0 a1.6,1.6 0 1,0 -3.2,0M423.49,377.05 m-1.6,0 a1.6,1.6 0 1,0 3.2,0 a1.6,1.6 0 1,0 -3.2,0M425.98,376.84 m-1.6,0 a1.6,1.6 0 1,0 3.2,0 a1.6,1.6 0 1,0 -3.2,0M428.47,376.63 m-1.6,0 a1.6,1.6 0 1,0 3.2,0 a1.6,1.6 0 1,0 -3.2,0M430.96,376.42 m-1.6,0 a1.6,1.6 0 1,0 3.2,0 a1.6,1.6 0 1,0 -3.2,0M433.46,376.21 m-1.6,0 a1.6,1.6 0 1,0 3.2,0 a1.6,1.6 0 1,0 -3.2,0M435.95,376 m-1.6,0 a1.6,1.6 0 1,0 3.2,0 a1.6,1.6 0 1,0 -3.2,0M438.44,375.8 m-1.6,0 a1.6,1.6 0 1,0 3.2,0 a1.6,1.6 0 1,0 -3.2,0M440.93,375.6 m-1.6,0 a1.6,1.6 0 1,0 3.2,0 a1.6,1.6 0 1,0 -3.2,0M443.42,375.39 m-1.6,0 a1.6,1.6 0 1,0 3.2,0 a1.6,1.6 0 1,0 -3.2,0M445.91,375.19 m-1.6,0 a1.6,1.6 0 1,0 3.2,0 a1.6,1.6 0 1,0 -3.2,0M448.41,374.99 m-1.6,0 a1.6,1.6 0 1,0 3.2,0 a1.6,1.6 0 1,0 -3.2,0M450.9,374.78 m-1.6,0 a1.6,1.6 0 1,0 3.2,0 a1.6,1.6 0 1,0 -3.2,0M453.39,374.57 m-1.6,0 a1.6,1.6 0 1,0 3.2,0 a1.6,1.6 0 1,0 -3.2,0M455.88,374.36 m-1.6,0 a1.6,1.6 0 1,0 3.2,0 a1.6,1.6 0 1,0 -3.2,0M458.37,374.14 m-1.6,0 a1.6,1.6 0 1,0 3.2,0 a1.6,1.6 0 1,0 -3.2,0M460.86,373.93 m-1.6,0 a1.6,1.6 0 1,0 3.2,0 a1.6,1.6 0 1,0 -3.2,0M463.35,373.72 m-1.6,0 a1.6,1.6 0 1,0 3.2,0 a1.6,1.6 0 1,0 -3.2,0M465.85,373.54 m-1.6,0 a1.6,1.6 0 1,0 3.2,0 a1.6,1.6 0 1,0 -3.2,0M468.34,373.36 m-1.6,0 a1.6,1.6 0 1,0 3.2,0 a1.6,1.6 0 1,0 -3.2,0M470.83,373.17 m-1.6,0 a1.6,1.6 0 1,0 3.2,0 a1.6,1.6 0 1,0 -3.2,0M473.32,372.94 m-1.6,0 a1.6,1.6 0 1,0 3.2,0 a1.6,1.6 0 1,0 -3.2,0M475.81,372.66 m-1.6,0 a1.6,1.6 0 1,0 3.2,0 a1.6,1.6 0 1,0 -3.2,0M478.28,372.3 m-1.6,0 a1.6,1.6 0 1,0 3.2,0 a1.6,1.6 0 1,0 -3.2,0M480.74,371.85 m-1.6,0 a1.6,1.6 0 1,0 3.2,0 a1.6,1.6 0 1,0 -3.2,0M483.18,371.32 m-1.6,0 a1.6,1.6 0 1,0 3.2,0 a1.6,1.6 0 1,0 -3.2,0M485.61,370.72 m-1.6,0 a1.6,1.6 0 1,0 3.2,0 a1.6,1.6 0 1,0 -3.2,0M488.02,370.08 m-1.6,0 a1.6,1.6 0 1,0 3.2,0 a1.6,1.6 0 1,0 -3.2,0M490.43,369.39 m-1.6,0 a1.6,1.6 0 1,0 3.2,0 a1.6,1.6 0 1,0 -3.2,0M492.83,368.69 m-1.6,0 a1.6,1.6 0 1,0 3.2,0 a1.6,1.6 0 1,0 -3.2,0M495.23,367.99 m-1.6,0 a1.6,1.6 0 1,0 3.2,0 a1.6,1.6 0 1,0 -3.2,0M497.63,367.29 m-1.6,0 a1.6,1.6 0 1,0 3.2,0 a1.6,1.6 0 1,0 -3.2,0M500.04,366.63 m-1.6,0 a1.6,1.6 0 1,0 3.2,0 a1.6,1.6 0 1,0 -3.2,0M502.46,366.02 m-1.6,0 a1.6,1.6 0 1,0 3.2,0 a1.6,1.6 0 1,0 -3.2,0M504.9,365.47 m-1.6,0 a1.6,1.6 0 1,0 3.2,0 a1.6,1.6 0 1,0 -3.2,0M507.35,364.97 m-1.6,0 a1.6,1.6 0 1,0 3.2,0 a1.6,1.6 0 1,0 -3.2,0M509.8,364.48 m-1.6,0 a1.6,1.6 0 1,0 3.2,0 a1.6,1.6 0 1,0 -3.2,0M512.25,363.96 m-1.6,0 a1.6,1.6 0 1,0 3.2,0 a1.6,1.6 0 1,0 -3.2,0M514.68,363.39 m-1.6,0 a1.6,1.6 0 1,0 3.2,0 a1.6,1.6 0 1,0 -3.2,0M517.1,362.74 m-1.6,0 a1.6,1.6 0 1,0 3.2,0 a1.6,1.6 0 1,0 -3.2,0M519.48,361.98 m-1.6,0 a1.6,1.6 0 1,0 3.2,0 a1.6,1.6 0 1,0 -3.2,0M521.81,361.08 m-1.6,0 a1.6,1.6 0 1,0 3.2,0 a1.6,1.6 0 1,0 -3.2,0M524.1,360.08 m-1.6,0 a1.6,1.6 0 1,0 3.2,0 a1.6,1.6 0 1,0 -3.2,0M526.35,359 m-1.6,0 a1.6,1.6 0 1,0 3.2,0 a1.6,1.6 0 1,0 -3.2,0M528.57,357.85 m-1.6,0 a1.6,1.6 0 1,0 3.2,0 a1.6,1.6 0 1,0 -3.2,0M530.77,356.65 m-1.6,0 a1.6,1.6 0 1,0 3.2,0 a1.6,1.6 0 1,0 -3.2,0M532.94,355.42 m-1.6,0 a1.6,1.6 0 1,0 3.2,0 a1.6,1.6 0 1,0 -3.2,0M535.09,354.14 m-1.6,0 a1.6,1.6 0 1,0 3.2,0 a1.6,1.6 0 1,0 -3.2,0M537.22,352.84 m-1.6,0 a1.6,1.6 0 1,0 3.2,0 a1.6,1.6 0 1,0 -3.2,0M539.34,351.51 m-1.6,0 a1.6,1.6 0 1,0 3.2,0 a1.6,1.6 0 1,0 -3.2,0M541.45,350.16 m-1.6,0 a1.6,1.6 0 1,0 3.2,0 a1.6,1.6 0 1,0 -3.2,0M543.51,348.75 m-1.6,0 a1.6,1.6 0 1,0 3.2,0 a1.6,1.6 0 1,0 -3.2,0M545.5,347.24 m-1.6,0 a1.6,1.6 0 1,0 3.2,0 a1.6,1.6 0 1,0 -3.2,0M547.43,345.65 m-1.6,0 a1.6,1.6 0 1,0 3.2,0 a1.6,1.6 0 1,0 -3.2,0M549.32,344.01 m-1.6,0 a1.6,1.6 0 1,0 3.2,0 a1.6,1.6 0 1,0 -3.2,0M551.22,342.38 m-1.6,0 a1.6,1.6 0 1,0 3.2,0 a1.6,1.6 0 1,0 -3.2,0M553.15,340.8 m-1.6,0 a1.6,1.6 0 1,0 3.2,0 a1.6,1.6 0 1,0 -3.2,0M555.18,339.34 m-1.6,0 a1.6,1.6 0 1,0 3.2,0 a1.6,1.6 0 1,0 -3.2,0M557.3,338.01 m-1.6,0 a1.6,1.6 0 1,0 3.2,0 a1.6,1.6 0 1,0 -3.2,0M559.47,336.77 m-1.6,0 a1.6,1.6 0 1,0 3.2,0 a1.6,1.6 0 1,0 -3.2,0M561.67,335.59 m-1.6,0 a1.6,1.6 0 1,0 3.2,0 a1.6,1.6 0 1,0 -3.2,0M563.91,334.48 m-1.6,0 a1.6,1.6 0 1,0 3.2,0 a1.6,1.6 0 1,0 -3.2,0M566.18,333.43 m-1.6,0 a1.6,1.6 0 1,0 3.2,0 a1.6,1.6 0 1,0 -3.2,0M568.47,332.44 m-1.6,0 a1.6,1.6 0 1,0 3.2,0 a1.6,1.6 0 1,0 -3.2,0M570.8,331.53 m-1.6,0 a1.6,1.6 0 1,0 3.2,0 a1.6,1.6 0 1,0 -3.2,0M573.16,330.71 m-1.6,0 a1.6,1.6 0 1,0 3.2,0 a1.6,1.6 0 1,0 -3.2,0M575.56,329.99 m-1.6,0 a1.6,1.6 0 1,0 3.2,0 a1.6,1.6 0 1,0 -3.2,0M578,329.45 m-1.6,0 a1.6,1.6 0 1,0 3.2,0 a1.6,1.6 0 1,0 -3.2,0M580.48,329.17 m-1.6,0 a1.6,1.6 0 1,0 3.2,0 a1.6,1.6 0 1,0 -3.2,0M582.98,329.18 m-1.6,0 a1.6,1.6 0 1,0 3.2,0 a1.6,1.6 0 1,0 -3.2,0M585.45,329.54 m-1.6,0 a1.6,1.6 0 1,0 3.2,0 a1.6,1.6 0 1,0 -3.2,0M587.84,330.25 m-1.6,0 a1.6,1.6 0 1,0 3.2,0 a1.6,1.6 0 1,0 -3.2,0M590.17,331.16 m-1.6,0 a1.6,1.6 0 1,0 3.2,0 a1.6,1.6 0 1,0 -3.2,0M592.48,332.11 m-1.6,0 a1.6,1.6 0 1,0 3.2,0 a1.6,1.6 0 1,0 -3.2,0M594.82,333 m-1.6,0 a1.6,1.6 0 1,0 3.2,0 a1.6,1.6 0 1,0 -3.2,0M597.19,333.81 m-1.6,0 a1.6,1.6 0 1,0 3.2,0 a1.6,1.6 0 1,0 -3.2,0M599.55,334.62 m-1.6,0 a1.6,1.6 0 1,0 3.2,0 a1.6,1.6 0 1,0 -3.2,0M601.92,335.43 m-1.6,0 a1.6,1.6 0 1,0 3.2,0 a1.6,1.6 0 1,0 -3.2,0M604.29,336.21 m-1.6,0 a1.6,1.6 0 1,0 3.2,0 a1.6,1.6 0 1,0 -3.2,0M606.68,336.96 m-1.6,0 a1.6,1.6 0 1,0 3.2,0 a1.6,1.6 0 1,0 -3.2,0M609.07,337.67 m-1.6,0 a1.6,1.6 0 1,0 3.2,0 a1.6,1.6 0 1,0 -3.2,0M611.47,338.37 m-1.6,0 a1.6,1.6 0 1,0 3.2,0 a1.6,1.6 0 1,0 -3.2,0M613.88,339.04 m-1.6,0 a1.6,1.6 0 1,0 3.2,0 a1.6,1.6 0 1,0 -3.2,0M616.29,339.72 m-1.6,0 a1.6,1.6 0 1,0 3.2,0 a1.6,1.6 0 1,0 -3.2,0M618.7,340.38 m-1.6,0 a1.6,1.6 0 1,0 3.2,0 a1.6,1.6 0 1,0 -3.2,0M621.11,341.05 m-1.6,0 a1.6,1.6 0 1,0 3.2,0 a1.6,1.6 0 1,0 -3.2,0" fill="none" stroke="#2a86f0" stroke-width="1.2"/>
</g>
<rect x="411.3" y="374.7" width="12.3" height="18.9" fill="none" stroke="#ff2020" stroke-width="1" stroke-dasharray="2,1.5"/>
<line x1="411.3" y1="393.6" x2="398" y2="398.3" stroke="#ff2020" stroke-width="1" stroke-dasharray="2,1.5"/>
<path d="M394,398.8 L398.5,396.3 L399,399.8 Z" fill="#ff2020"/>
<rect x="606.4" y="397.1" width="12.1" height="16" fill="none" stroke="#2a2aff" stroke-width="1" stroke-dasharray="2,1.5"/>
<line x1="618.5" y1="407" x2="646" y2="410.8" stroke="#2a2aff" stroke-width="1" stroke-dasharray="2,1.5"/>
<path d="M650.5,411.2 L646,409.4 L645.8,412.6 Z" fill="#2a2aff"/>
<text x="0" y="0" font-size="13.6" text-anchor="middle" fill="#ff1a1a" transform="translate(363.2,340.3) rotate(-90)" dominant-baseline="central"  stroke="#ff1a1a" stroke-width="0.12">KIE (J<tspan dy="4" font-size="8.5">H</tspan><tspan dy="-4">/J</tspan><tspan dy="4" font-size="8.5">D</tspan><tspan dy="-4"> at the same </tspan><tspan font-style="italic">&#951;</tspan>)</text>
<text x="0" y="0" font-size="12.8" text-anchor="middle" fill="#2222ff" transform="translate(675.3,340.8) rotate(90)" dominant-baseline="central"  stroke="#2222ff" stroke-width="0.12">Current density (mA cm<tspan dy="-4.5" font-size="8.2">-2</tspan><tspan dy="4.5">)</tspan></text>
<defs><clipPath id="clipE"><rect x="53.4" y="493.9" width="256.5" height="182.6"/></clipPath></defs>
<line x1="53.4" y1="601.8" x2="309.9" y2="601.8" stroke="#111" stroke-width="1.1" stroke-dasharray="2,1.6"/>
<line x1="73.3" y1="506.2" x2="97.8" y2="506.2" stroke="#ff7a7a" stroke-width="1.3"/>
<line x1="73.3" y1="521" x2="97.8" y2="521" stroke="#ff9a9a" stroke-width="1.3" stroke-dasharray="1.5,1.5"/>
<line x1="73.3" y1="535.3" x2="97.8" y2="535.3" stroke="#1677e6" stroke-width="1.5"/>
<line x1="73.3" y1="549.6" x2="97.8" y2="549.6" stroke="#1677e6" stroke-width="1.3" stroke-dasharray="2.5,1.5"/>
<text x="100.5" y="510.3" font-size="10.5" text-anchor="start" fill="#111" font-weight="normal"  stroke="#111" stroke-width="0.12">25 &#176;C</text>
<text x="100.5" y="524.6" font-size="10.5" text-anchor="start" fill="#111" font-weight="normal"  stroke="#111" stroke-width="0.12">65 &#176;C</text>
<text x="100.5" y="538.9" font-size="10.5" text-anchor="start" fill="#111" font-weight="normal"  stroke="#111" stroke-width="0.12">25 &#176;C</text>
<text x="100.5" y="553.2" font-size="10.5" text-anchor="start" fill="#111" font-weight="normal"  stroke="#111" stroke-width="0.12">65 &#176;C</text>
<text x="130.5" y="517.1" font-size="10.5" fill="#111" stroke="#111" stroke-width="0.12">Co<tspan dy="3.3" font-size="7">3</tspan><tspan dy="-3.3">O</tspan><tspan dy="3.3" font-size="7">4</tspan><tspan dy="-3.3"></tspan></text>
<text x="130.5" y="541" font-size="10.5" fill="#111" stroke="#111" stroke-width="0.12">Co<tspan dy="3.3" font-size="7">3</tspan><tspan dy="-3.3">O</tspan><tspan dy="3.3" font-size="7">4</tspan><tspan dy="-3.3">/CeO<tspan dy="3.3" font-size="7">2</tspan></tspan></text>
<g clip-path="url(#clipE)">
<path d="M84.5,674.2C90.42,674.17 109.08,674.05 120,674C130.92,673.95 136.97,674.18 150,673.9C163.03,673.62 187.5,673.38 198.2,672.3C208.9,671.22 210.18,669.82 214.2,667.4C218.22,664.98 219.88,660.47 222.3,657.8C224.72,655.13 225.23,655.68 228.7,651.4C232.17,647.12 240.08,638.33 243.1,632.1C246.12,625.87 245.45,620.28 246.8,614C248.15,607.72 250.47,597.67 251.2,594.4" fill="none" stroke="#ff7070" stroke-width="1.2" stroke-linejoin="round" />
<path d="M84.5,675C95.42,674.95 132.42,674.8 150,674.7C167.58,674.6 180.63,674.53 190,674.4C199.37,674.27 201.9,673.85 206.2,673.9C210.5,673.95 213.38,674.83 215.8,674.7C218.22,674.57 218.28,674.85 220.7,673.1C223.12,671.35 226.83,669.7 230.3,664.2C233.77,658.7 238.92,646.63 241.5,640.1C244.08,633.57 244.52,630.35 245.8,625C247.08,619.65 248.3,613.1 249.2,608C250.1,602.9 250.87,596.67 251.2,594.4" fill="none" stroke="#ff7070" stroke-width="1.2" stroke-linejoin="round" />
<path d="M84.5,674.5C95.42,674.45 132.4,674.43 150,674.2C167.6,673.97 181,673.95 190.1,673.1C199.2,672.25 200.05,671.92 204.6,669.1C209.15,666.28 213.65,661.57 217.4,656.2C221.15,650.83 224.02,646.27 227.1,636.9C230.18,627.53 233.87,606.85 235.9,600C237.93,593.15 237.77,602.02 239.3,595.8C240.83,589.58 244.13,568.22 245.1,562.7" fill="none" stroke="#ff7070" stroke-width="1.2" stroke-dasharray="2.2,1.6" stroke-linejoin="round" />
<path d="M84.5,675.2C95.42,675.17 131.58,675.17 150,675C168.42,674.83 185.1,674.92 195,674.2C204.9,673.48 205.12,673.17 209.4,670.7C213.68,668.23 217.08,665.03 220.7,659.4C224.32,653.77 228.03,646.8 231.1,636.9C234.17,627 236.77,612.37 239.1,600C241.43,587.63 244.1,568.92 245.1,562.7" fill="none" stroke="#ff7070" stroke-width="1.2" stroke-dasharray="2.2,1.6" stroke-linejoin="round" />
<path d="M84.5,672.6C90.42,672.57 109.08,672.52 120,672.4C130.92,672.28 139.65,672.18 150,671.9C160.35,671.62 174.07,671.72 182.1,670.7C190.13,669.68 193.92,668.75 198.2,665.8C202.48,662.85 205.13,657.82 207.8,653C210.47,648.18 211.65,645.73 214.2,636.9C216.75,628.07 220.45,609.93 223.1,600C225.75,590.07 227.62,586.9 230.1,577.3C232.58,567.7 236.68,548.22 238,542.4" fill="none" stroke="#1677e6" stroke-width="1.5" stroke-linejoin="round" />
<path d="M84.5,676C90.42,676 109.08,676.03 120,676C130.92,675.97 138.85,676.15 150,675.8C161.15,675.45 178.33,675.02 186.9,673.9C195.47,672.78 197.38,672.05 201.4,669.1C205.42,666.15 208.18,661.3 211,656.2C213.82,651.1 215.75,647.87 218.3,638.5C220.85,629.13 224.03,610.2 226.3,600C228.57,589.8 229.95,586.9 231.9,577.3C233.85,567.7 236.98,548.22 238,542.4" fill="none" stroke="#1677e6" stroke-width="1.5" stroke-linejoin="round" />
<path d="M84.5,672.8C90.42,672.72 109.08,672.52 120,672.3C130.92,672.08 141.52,671.98 150,671.5C158.48,671.02 165.55,670.62 170.9,669.4C176.25,668.18 178.9,666.93 182.1,664.2C185.3,661.47 187.42,658.35 190.1,653C192.78,647.65 195.38,640.93 198.2,632.1C201.02,623.27 204.33,609.13 207,600C209.67,590.87 212.12,586.82 214.2,577.3C216.28,567.78 217.87,555.25 219.5,542.9C221.13,530.55 223.25,509.82 224,503.2" fill="none" stroke="#1677e6" stroke-width="1.4" stroke-dasharray="2.2,1.6" stroke-linejoin="round" />
<path d="M84.5,675.5C90.42,675.45 109.08,675.33 120,675.2C130.92,675.07 140.45,675.18 150,674.7C159.55,674.22 170.88,673.52 177.3,672.3C183.72,671.08 185.42,670.62 188.5,667.4C191.58,664.18 193.38,658.88 195.8,653C198.22,647.12 200.52,640.93 203,632.1C205.48,623.27 208.4,609.13 210.7,600C213,590.87 215.03,586.82 216.8,577.3C218.57,567.78 220.1,555.25 221.3,542.9C222.5,530.55 223.55,509.82 224,503.2" fill="none" stroke="#1677e6" stroke-width="1.4" stroke-dasharray="2.2,1.6" stroke-linejoin="round" />
</g>
<defs><clipPath id="clipF"><rect x="394.5" y="497.2" width="255.9" height="183"/></clipPath></defs>
<line x1="401.5" y1="508" x2="420.8" y2="508" stroke="#ff8080" stroke-width="3.8"/>
<line x1="401.5" y1="523.8" x2="420.8" y2="523.8" stroke="#1a7ff0" stroke-width="3.8"/>
<text x="422.5" y="511.5" font-size="10.5" fill="#111" stroke="#111" stroke-width="0.12">Co<tspan dy="3.5" font-size="7">3</tspan><tspan dy="-3.5">O</tspan><tspan dy="3.5" font-size="7">4</tspan><tspan dy="-3.5"></tspan></text>
<text x="422.5" y="527.5" font-size="10.5" fill="#111" stroke="#111" stroke-width="0.12">Co<tspan dy="3.5" font-size="7">3</tspan><tspan dy="-3.5">O</tspan><tspan dy="3.5" font-size="7">4</tspan><tspan dy="-3.5">/CeO<tspan dy="3.5" font-size="7">2</tspan></tspan></text>
<g clip-path="url(#clipF)">
<path d="M394.5,670C403.75,669.83 432.42,669.43 450,669C467.58,668.57 487.27,667.97 500,667.4C512.73,666.83 518.47,667 526.4,665.6C534.33,664.2 540.98,662.3 547.6,659C554.22,655.7 560.82,651.1 566.1,645.8C571.38,640.5 574.88,635.15 579.3,627.2C583.72,619.25 588.18,609.12 592.6,598.1C597.02,587.08 601.83,573 605.8,561.1C609.77,549.2 613.4,537.05 616.4,526.7C619.4,516.35 622.37,505.12 623.8,499C625.23,492.88 624.8,491.5 625,490" fill="none" stroke="#1677e6" stroke-width="1.4" stroke-linejoin="round" />
<path d="M394.5,674.5C403.75,674.5 432.42,674.53 450,674.5C467.58,674.47 487.27,674.6 500,674.3C512.73,674 517.58,673.72 526.4,672.7C535.22,671.68 545.83,670.48 552.9,668.2C559.97,665.92 563.95,663.18 568.8,659C573.65,654.82 577.6,650.6 582,643.1C586.4,635.6 590.8,625.9 595.2,614C599.6,602.1 604.65,585.37 608.4,571.7C612.15,558.03 615.05,543.9 617.7,532C620.35,520.1 623,507.3 624.3,500.3C625.6,493.3 625.3,491.72 625.5,490" fill="none" stroke="#1677e6" stroke-width="1.4" stroke-linejoin="round" />
<path d="M394.5,671.3C403.75,671.25 432.42,671.2 450,671C467.58,670.8 482.85,670.33 500,670.1C517.15,669.87 540.55,670.57 552.9,669.6C565.25,668.63 567.93,666.52 574.1,664.3C580.27,662.08 585.07,659.17 589.9,656.3C594.73,653.43 598.68,651.07 603.1,647.1C607.52,643.13 611.55,639.33 616.4,632.5C621.25,625.67 626.92,617.33 632.2,606.1C637.48,594.87 644.8,573.12 648.1,565.1C651.4,557.08 651.35,559.18 652,558" fill="none" stroke="#ff7070" stroke-width="1.2" stroke-linejoin="round" />
<path d="M394.5,672C403.75,671.98 432.42,671.95 450,671.9C467.58,671.85 482.85,671.87 500,671.7C517.15,671.53 541.43,671.03 552.9,670.9C564.37,670.77 563.52,670.47 568.8,670.9C574.08,671.33 580.2,673.5 584.6,673.5C589,673.5 591.67,673.1 595.2,670.9C598.73,668.7 601.83,665.37 605.8,660.3C609.77,655.23 614.6,648.22 619,640.5C623.4,632.78 627.35,625.47 632.2,614C637.05,602.53 644.8,579.87 648.1,571.7C651.4,563.53 651.35,566.12 652,565" fill="none" stroke="#ff7070" stroke-width="1.2" stroke-linejoin="round" />
</g>
<line x1="508.9" y1="625.9" x2="399" y2="625.9" stroke="#ff2020" stroke-width="1.6" stroke-dasharray="2.2,1.6"/>
<path d="M394.6,625.9 L399.6,623.7 L399.6,628.1 Z" fill="#ff2020"/>
<line x1="604.4" y1="660.9" x2="646" y2="660.9" stroke="#2222ee" stroke-width="1.6" stroke-dasharray="2.6,1.6"/>
<path d="M650.6,660.9 L645.6,658.7 L645.6,663.1 Z" fill="#2222ee"/>
<line x1="525.1" y1="625.4" x2="525.1" y2="643.1" stroke="#ff9a9a" stroke-width="1.0"/>
<line x1="522.3" y1="625.4" x2="527.9" y2="625.4" stroke="#ff9a9a" stroke-width="1.0"/>
<line x1="522.3" y1="643.1" x2="527.9" y2="643.1" stroke="#ff9a9a" stroke-width="1.0"/>
<line x1="536.5" y1="590.2" x2="536.5" y2="606.1" stroke="#ff9a9a" stroke-width="1.0"/>
<line x1="533.7" y1="590.2" x2="539.3" y2="590.2" stroke="#ff9a9a" stroke-width="1.0"/>
<line x1="533.7" y1="606.1" x2="539.3" y2="606.1" stroke="#ff9a9a" stroke-width="1.0"/>
<line x1="548.1" y1="569.6" x2="548.1" y2="581" stroke="#ff9a9a" stroke-width="1.0"/>
<line x1="545.3" y1="569.6" x2="550.9" y2="569.6" stroke="#ff9a9a" stroke-width="1.0"/>
<line x1="545.3" y1="581" x2="550.9" y2="581" stroke="#ff9a9a" stroke-width="1.0"/>
<line x1="559.5" y1="550" x2="559.5" y2="569" stroke="#ff9a9a" stroke-width="1.0"/>
<line x1="556.7" y1="550" x2="562.3" y2="550" stroke="#ff9a9a" stroke-width="1.0"/>
<line x1="556.7" y1="569" x2="562.3" y2="569" stroke="#ff9a9a" stroke-width="1.0"/>
<line x1="570.9" y1="543.9" x2="570.9" y2="563.2" stroke="#ff9a9a" stroke-width="1.0"/>
<line x1="568.1" y1="543.9" x2="573.7" y2="543.9" stroke="#ff9a9a" stroke-width="1.0"/>
<line x1="568.1" y1="563.2" x2="573.7" y2="563.2" stroke="#ff9a9a" stroke-width="1.0"/>
<line x1="582.5" y1="536.8" x2="582.5" y2="584.4" stroke="#ff9a9a" stroke-width="1.0"/>
<line x1="579.7" y1="536.8" x2="585.3" y2="536.8" stroke="#ff9a9a" stroke-width="1.0"/>
<line x1="579.7" y1="584.4" x2="585.3" y2="584.4" stroke="#ff9a9a" stroke-width="1.0"/>
<line x1="593.4" y1="551.1" x2="593.4" y2="600.8" stroke="#ff9a9a" stroke-width="1.0"/>
<line x1="590.6" y1="551.1" x2="596.2" y2="551.1" stroke="#ff9a9a" stroke-width="1.0"/>
<line x1="590.6" y1="600.8" x2="596.2" y2="600.8" stroke="#ff9a9a" stroke-width="1.0"/>
<line x1="605" y1="559.8" x2="605" y2="610" stroke="#ff9a9a" stroke-width="1.0"/>
<line x1="602.2" y1="559.8" x2="607.8" y2="559.8" stroke="#ff9a9a" stroke-width="1.0"/>
<line x1="602.2" y1="610" x2="607.8" y2="610" stroke="#ff9a9a" stroke-width="1.0"/>
<line x1="616.4" y1="573" x2="616.4" y2="619.8" stroke="#ff9a9a" stroke-width="1.0"/>
<line x1="613.6" y1="573" x2="619.2" y2="573" stroke="#ff9a9a" stroke-width="1.0"/>
<line x1="613.6" y1="619.8" x2="619.2" y2="619.8" stroke="#ff9a9a" stroke-width="1.0"/>
<line x1="628" y1="584.4" x2="628" y2="616.7" stroke="#ff9a9a" stroke-width="1.0"/>
<line x1="625.2" y1="584.4" x2="630.8" y2="584.4" stroke="#ff9a9a" stroke-width="1.0"/>
<line x1="625.2" y1="616.7" x2="630.8" y2="616.7" stroke="#ff9a9a" stroke-width="1.0"/>
<line x1="502.1" y1="641" x2="502.1" y2="653.7" stroke="#3a8ee8" stroke-width="1.0"/>
<line x1="499.3" y1="641" x2="504.9" y2="641" stroke="#3a8ee8" stroke-width="1.0"/>
<line x1="499.3" y1="653.7" x2="504.9" y2="653.7" stroke="#3a8ee8" stroke-width="1.0"/>
<line x1="513.8" y1="603.4" x2="513.8" y2="619.3" stroke="#3a8ee8" stroke-width="1.0"/>
<line x1="511" y1="603.4" x2="516.6" y2="603.4" stroke="#3a8ee8" stroke-width="1.0"/>
<line x1="511" y1="619.3" x2="516.6" y2="619.3" stroke="#3a8ee8" stroke-width="1.0"/>
<line x1="525.1" y1="562.4" x2="525.1" y2="583.1" stroke="#3a8ee8" stroke-width="1.0"/>
<line x1="522.3" y1="562.4" x2="527.9" y2="562.4" stroke="#3a8ee8" stroke-width="1.0"/>
<line x1="522.3" y1="583.1" x2="527.9" y2="583.1" stroke="#3a8ee8" stroke-width="1.0"/>
<line x1="536.5" y1="530.2" x2="536.5" y2="559.3" stroke="#3a8ee8" stroke-width="1.0"/>
<line x1="533.7" y1="530.2" x2="539.3" y2="530.2" stroke="#3a8ee8" stroke-width="1.0"/>
<line x1="533.7" y1="559.3" x2="539.3" y2="559.3" stroke="#3a8ee8" stroke-width="1.0"/>
<line x1="548.1" y1="515.4" x2="548.1" y2="549.7" stroke="#3a8ee8" stroke-width="1.0"/>
<line x1="545.3" y1="515.4" x2="550.9" y2="515.4" stroke="#3a8ee8" stroke-width="1.0"/>
<line x1="545.3" y1="549.7" x2="550.9" y2="549.7" stroke="#3a8ee8" stroke-width="1.0"/>
<line x1="559.5" y1="512.7" x2="559.5" y2="549.7" stroke="#3a8ee8" stroke-width="1.0"/>
<line x1="556.7" y1="512.7" x2="562.3" y2="512.7" stroke="#3a8ee8" stroke-width="1.0"/>
<line x1="556.7" y1="549.7" x2="562.3" y2="549.7" stroke="#3a8ee8" stroke-width="1.0"/>
<line x1="570.9" y1="524.1" x2="570.9" y2="558.5" stroke="#3a8ee8" stroke-width="1.0"/>
<line x1="568.1" y1="524.1" x2="573.7" y2="524.1" stroke="#3a8ee8" stroke-width="1.0"/>
<line x1="568.1" y1="558.5" x2="573.7" y2="558.5" stroke="#3a8ee8" stroke-width="1.0"/>
<line x1="582.5" y1="539.2" x2="582.5" y2="572.5" stroke="#3a8ee8" stroke-width="1.0"/>
<line x1="579.7" y1="539.2" x2="585.3" y2="539.2" stroke="#3a8ee8" stroke-width="1.0"/>
<line x1="579.7" y1="572.5" x2="585.3" y2="572.5" stroke="#3a8ee8" stroke-width="1.0"/>
<line x1="593.4" y1="558" x2="593.4" y2="573" stroke="#3a8ee8" stroke-width="1.0"/>
<line x1="590.6" y1="558" x2="596.2" y2="558" stroke="#3a8ee8" stroke-width="1.0"/>
<line x1="590.6" y1="573" x2="596.2" y2="573" stroke="#3a8ee8" stroke-width="1.0"/>
<line x1="599.2" y1="563.8" x2="599.2" y2="581" stroke="#3a8ee8" stroke-width="1.0"/>
<line x1="596.4" y1="563.8" x2="602" y2="563.8" stroke="#3a8ee8" stroke-width="1.0"/>
<line x1="596.4" y1="581" x2="602" y2="581" stroke="#3a8ee8" stroke-width="1.0"/>
<path d="M525.1,634.4 L536.5,598.1 L548.1,575.1 L559.5,559 L570.9,553.2" fill="none" stroke="#ff7f7f" stroke-width="0.9" stroke-dasharray="1.5,1.2" stroke-linejoin="round" />
<path d="M570.9,553.2 L582.5,559.8 L593.4,576.2 L605,584.9 L616.4,596.3 L628,600.8" fill="none" stroke="#ff7f7f" stroke-width="1.0" stroke-linejoin="round" />
<path d="M502.1,647.6 L513.8,611.4 L525.1,573 L536.5,544.7 L548.1,532.6 L559.5,531.5" fill="none" stroke="#1a80e0" stroke-width="0.9" stroke-dasharray="1.5,1.2" stroke-linejoin="round" />
<path d="M559.5,531.5 L570.9,541.3 L582.5,555.8 L593.4,565.6 L599.2,572.5" fill="none" stroke="#1a80e0" stroke-width="1.0" stroke-linejoin="round" />
<circle cx="525.1" cy="634.4" r="2.6" fill="#fff" stroke="#ff7f7f" stroke-width="1.1"/>
<circle cx="536.5" cy="598.1" r="2.6" fill="#fff" stroke="#ff7f7f" stroke-width="1.1"/>
<circle cx="548.1" cy="575.1" r="2.6" fill="#fff" stroke="#ff7f7f" stroke-width="1.1"/>
<circle cx="559.5" cy="559" r="2.6" fill="#fff" stroke="#ff7f7f" stroke-width="1.1"/>
<circle cx="570.9" cy="553.2" r="2.8" fill="#ff7f7f" stroke="#ff7f7f" stroke-width="0.8"/>
<circle cx="582.5" cy="559.8" r="2.8" fill="#ff7f7f" stroke="#ff7f7f" stroke-width="0.8"/>
<circle cx="593.4" cy="576.2" r="2.8" fill="#ff7f7f" stroke="#ff7f7f" stroke-width="0.8"/>
<circle cx="605" cy="584.9" r="2.8" fill="#ff7f7f" stroke="#ff7f7f" stroke-width="0.8"/>
<circle cx="616.4" cy="596.3" r="2.8" fill="#ff7f7f" stroke="#ff7f7f" stroke-width="0.8"/>
<circle cx="628" cy="600.8" r="2.8" fill="#ff7f7f" stroke="#ff7f7f" stroke-width="0.8"/>
<circle cx="502.1" cy="647.6" r="2.6" fill="#fff" stroke="#1a80e0" stroke-width="1.1"/>
<circle cx="513.8" cy="611.4" r="2.6" fill="#fff" stroke="#1a80e0" stroke-width="1.1"/>
<circle cx="525.1" cy="573" r="2.6" fill="#fff" stroke="#1a80e0" stroke-width="1.1"/>
<circle cx="536.5" cy="544.7" r="2.6" fill="#fff" stroke="#1a80e0" stroke-width="1.1"/>
<circle cx="548.1" cy="532.6" r="2.6" fill="#fff" stroke="#1a80e0" stroke-width="1.1"/>
<circle cx="559.5" cy="531.5" r="2.8" fill="#1a80e0" stroke="#1a80e0" stroke-width="0.8"/>
<circle cx="570.9" cy="541.3" r="2.8" fill="#1a80e0" stroke="#1a80e0" stroke-width="0.8"/>
<circle cx="582.5" cy="555.8" r="2.8" fill="#1a80e0" stroke="#1a80e0" stroke-width="0.8"/>
<circle cx="593.4" cy="565.6" r="2.8" fill="#1a80e0" stroke="#1a80e0" stroke-width="0.8"/>
<circle cx="599.2" cy="572.5" r="2.8" fill="#1a80e0" stroke="#1a80e0" stroke-width="0.8"/>
<text x="0" y="0" font-size="14" text-anchor="middle" fill="#ff1a1a" transform="translate(363,600.7) rotate(-90)" dominant-baseline="central"  stroke="#ff1a1a" stroke-width="0.12"><tspan font-style="italic">E</tspan><tspan dy="3" font-size="9">app</tspan><tspan dy="-3"> (kJ mol</tspan><tspan dy="-5" font-size="9">-1</tspan><tspan dy="5">)</tspan></text>
<text x="0" y="0" font-size="14" text-anchor="middle" fill="#2222ff" transform="translate(676.7,593.4) rotate(90)" dominant-baseline="central"  stroke="#2222ff" stroke-width="0.12">Current density (mA cm<tspan dy="-5" font-size="9">-2</tspan><tspan dy="5">)</tspan></text>
<rect x="55" y="10.5" width="256" height="183" fill="none" stroke="#222" stroke-width="1.2"/>
<rect x="395.1" y="10.5" width="256.2" height="183.1" fill="none" stroke="#222" stroke-width="1.2"/>
<rect x="52.9" y="247" width="256.5" height="183.1" fill="none" stroke="#222" stroke-width="1.2"/>
<rect x="53.4" y="493.9" width="256.5" height="182.6" fill="none" stroke="#222" stroke-width="1.2"/>
<line x1="393.5" y1="244.9" x2="650.7" y2="244.9" stroke="#1a1a1a" stroke-width="1.2"/>
<line x1="393.5" y1="436.3" x2="650.7" y2="436.3" stroke="#1a1a1a" stroke-width="1.2"/>
<line x1="393.5" y1="244.9" x2="393.5" y2="436.3" stroke="#ff2020" stroke-width="1.2"/>
<line x1="650.7" y1="244.9" x2="650.7" y2="436.3" stroke="#3a3aff" stroke-width="1.2"/>
<line x1="394.3" y1="497.4" x2="650.4" y2="497.4" stroke="#1a1a1a" stroke-width="1.2"/>
<line x1="394.3" y1="680.2" x2="650.4" y2="680.2" stroke="#1a1a1a" stroke-width="1.2"/>
<line x1="394.3" y1="497.4" x2="394.3" y2="680.2" stroke="#ff2020" stroke-width="1.2"/>
<line x1="650.4" y1="497.4" x2="650.4" y2="680.2" stroke="#3a3aff" stroke-width="1.2"/>
</svg></body></html>
